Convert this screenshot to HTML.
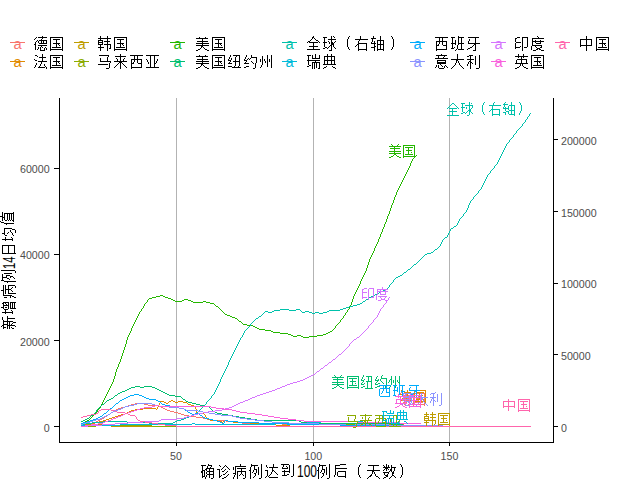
<!DOCTYPE html>
<html><head><meta charset="utf-8"><title>chart</title><style>html,body{margin:0;padding:0;background:#fff;overflow:hidden}svg text{shape-rendering:auto}</style></head><body>
<svg width="640" height="480" viewBox="0 0 640 480" style="display:block">
<rect width="640" height="480" fill="#fff"/>
<defs>
<path id="g5fb7_14" d="M3 -12h1v1h-1zM2 -11h1v1h-1zM5 -11h8v1h-8zM1 -10h1v1h-1zM8 -10h1v1h-1zM5 -9h8v1h-8zM3 -8h1v1h-1zM5 -8h1v1h-1zM7 -8h1v1h-1zM9 -8h1v1h-1zM12 -8h1v1h-1zM2 -7h1v1h-1zM5 -7h1v1h-1zM7 -7h1v1h-1zM9 -7h1v1h-1zM12 -7h1v1h-1zM2 -6h1v1h-1zM5 -6h8v1h-8zM1 -5h2v1h-2zM2 -4h1v1h-1zM4 -4h9v1h-9zM2 -3h1v1h-1zM8 -3h1v1h-1zM2 -2h1v1h-1zM5 -2h2v1h-2zM8 -2h1v1h-1zM11 -2h1v1h-1zM2 -1h1v1h-1zM4 -1h1v1h-1zM6 -1h1v1h-1zM12 -1h1v1h-1zM2 0h1v1h-1zM4 0h1v1h-1zM6 0h1v1h-1zM10 0h1v1h-1zM12 0h1v1h-1zM7 1h4v1h-4z"/>
<path id="g56fd_14" d="M1 -11h12v1h-12zM1 -10h1v1h-1zM12 -10h1v1h-1zM1 -9h1v1h-1zM3 -9h8v1h-8zM12 -9h1v1h-1zM1 -8h1v1h-1zM6 -8h1v1h-1zM12 -8h1v1h-1zM1 -7h1v1h-1zM6 -7h1v1h-1zM12 -7h1v1h-1zM1 -6h1v1h-1zM4 -6h6v1h-6zM12 -6h1v1h-1zM1 -5h1v1h-1zM6 -5h1v1h-1zM12 -5h1v1h-1zM1 -4h1v1h-1zM6 -4h1v1h-1zM9 -4h1v1h-1zM12 -4h1v1h-1zM1 -3h1v1h-1zM6 -3h1v1h-1zM12 -3h1v1h-1zM1 -2h1v1h-1zM3 -2h8v1h-8zM12 -2h1v1h-1zM1 -1h1v1h-1zM12 -1h1v1h-1zM1 0h12v1h-12zM1 1h1v1h-1zM12 1h1v1h-1z"/>
<path id="g6cd5_14" d="M2 -11h2v1h-2zM8 -11h1v1h-1zM8 -10h1v1h-1zM5 -9h7v1h-7zM8 -8h1v1h-1zM1 -7h2v1h-2zM8 -7h1v1h-1zM8 -6h1v1h-1zM5 -5h8v1h-8zM8 -4h1v1h-1zM3 -3h1v1h-1zM7 -3h1v1h-1zM10 -3h1v1h-1zM2 -2h1v1h-1zM6 -2h1v1h-1zM10 -2h1v1h-1zM2 -1h1v1h-1zM6 -1h1v1h-1zM11 -1h1v1h-1zM1 0h1v1h-1zM5 0h6v1h-6zM12 0h1v1h-1zM1 1h1v1h-1zM12 1h1v1h-1z"/>
<path id="g97e9_14" d="M3 -12h1v1h-1zM9 -12h1v1h-1zM3 -11h1v1h-1zM9 -11h1v1h-1zM1 -10h5v1h-5zM7 -10h6v1h-6zM3 -9h1v1h-1zM9 -9h1v1h-1zM1 -8h5v1h-5zM9 -8h1v1h-1zM1 -7h1v1h-1zM5 -7h1v1h-1zM7 -7h6v1h-6zM1 -6h5v1h-5zM9 -6h1v1h-1zM1 -5h1v1h-1zM5 -5h1v1h-1zM9 -5h1v1h-1zM1 -4h12v1h-12zM3 -3h1v1h-1zM9 -3h1v1h-1zM12 -3h1v1h-1zM1 -2h5v1h-5zM9 -2h1v1h-1zM12 -2h1v1h-1zM3 -1h1v1h-1zM9 -1h1v1h-1zM12 -1h1v1h-1zM3 0h1v1h-1zM9 0h1v1h-1zM11 0h1v1h-1zM3 1h1v1h-1zM9 1h1v1h-1z"/>
<path id="g9a6c_14" d="M2 -11h9v1h-9zM10 -10h1v1h-1zM3 -9h1v1h-1zM10 -9h1v1h-1zM3 -8h1v1h-1zM10 -8h1v1h-1zM3 -7h1v1h-1zM9 -7h1v1h-1zM3 -6h1v1h-1zM9 -6h1v1h-1zM3 -5h10v1h-10zM12 -4h1v1h-1zM11 -3h1v1h-1zM1 -2h9v1h-9zM11 -2h1v1h-1zM11 -1h1v1h-1zM11 0h1v1h-1zM8 1h3v1h-3z"/>
<path id="g6765_14" d="M6 -12h1v1h-1zM1 -11h12v1h-12zM6 -10h1v1h-1zM3 -9h1v1h-1zM6 -9h1v1h-1zM10 -9h1v1h-1zM3 -8h1v1h-1zM6 -8h1v1h-1zM9 -8h1v1h-1zM6 -7h1v1h-1zM9 -7h1v1h-1zM1 -6h12v1h-12zM5 -5h2v1h-2zM8 -5h1v1h-1zM4 -4h1v1h-1zM6 -4h1v1h-1zM8 -4h1v1h-1zM4 -3h1v1h-1zM6 -3h1v1h-1zM9 -3h1v1h-1zM2 -2h2v1h-2zM6 -2h1v1h-1zM10 -2h2v1h-2zM1 -1h1v1h-1zM6 -1h1v1h-1zM12 -1h1v1h-1z"/>
<path id="g897f_14" d="M1 -11h12v1h-12zM5 -10h1v1h-1zM8 -10h1v1h-1zM5 -9h1v1h-1zM8 -9h1v1h-1zM2 -8h10v1h-10zM1 -7h1v1h-1zM5 -7h1v1h-1zM8 -7h1v1h-1zM11 -7h1v1h-1zM1 -6h1v1h-1zM5 -6h1v1h-1zM8 -6h1v1h-1zM11 -6h1v1h-1zM1 -5h1v1h-1zM4 -5h1v1h-1zM8 -5h1v1h-1zM11 -5h1v1h-1zM1 -4h1v1h-1zM4 -4h1v1h-1zM8 -4h4v1h-4zM1 -3h1v1h-1zM3 -3h1v1h-1zM11 -3h1v1h-1zM1 -2h1v1h-1zM11 -2h1v1h-1zM1 -1h1v1h-1zM11 -1h1v1h-1zM2 0h10v1h-10z"/>
<path id="g4e9a_14" d="M1 -11h12v1h-12zM5 -10h1v1h-1zM8 -10h1v1h-1zM5 -9h1v1h-1zM8 -9h1v1h-1zM1 -8h1v1h-1zM5 -8h1v1h-1zM8 -8h1v1h-1zM12 -8h1v1h-1zM2 -7h1v1h-1zM5 -7h1v1h-1zM8 -7h1v1h-1zM11 -7h1v1h-1zM2 -6h1v1h-1zM5 -6h1v1h-1zM8 -6h1v1h-1zM11 -6h1v1h-1zM2 -5h1v1h-1zM5 -5h1v1h-1zM8 -5h1v1h-1zM10 -5h1v1h-1zM3 -4h1v1h-1zM5 -4h1v1h-1zM8 -4h1v1h-1zM10 -4h1v1h-1zM5 -3h1v1h-1zM8 -3h1v1h-1zM5 -2h1v1h-1zM8 -2h1v1h-1zM5 -1h1v1h-1zM8 -1h1v1h-1zM1 0h12v1h-12z"/>
<path id="g7f8e_14" d="M3 -12h1v1h-1zM10 -12h1v1h-1zM4 -11h1v1h-1zM9 -11h1v1h-1zM1 -10h12v1h-12zM6 -9h1v1h-1zM2 -8h10v1h-10zM6 -7h1v1h-1zM6 -6h1v1h-1zM1 -5h12v1h-12zM6 -4h1v1h-1zM1 -3h12v1h-12zM6 -2h2v1h-2zM5 -1h1v1h-1zM8 -1h1v1h-1zM3 0h2v1h-2zM9 0h2v1h-2zM1 1h2v1h-2zM11 1h2v1h-2z"/>
<path id="g7ebd_14" d="M3 -12h1v1h-1zM3 -11h1v1h-1zM6 -11h6v1h-6zM2 -10h1v1h-1zM8 -10h1v1h-1zM11 -10h1v1h-1zM2 -9h1v1h-1zM8 -9h1v1h-1zM11 -9h1v1h-1zM1 -8h1v1h-1zM4 -8h1v1h-1zM8 -8h1v1h-1zM11 -8h1v1h-1zM1 -7h3v1h-3zM8 -7h1v1h-1zM11 -7h1v1h-1zM3 -6h1v1h-1zM6 -6h6v1h-6zM2 -5h1v1h-1zM7 -5h1v1h-1zM11 -5h1v1h-1zM1 -4h1v1h-1zM4 -4h1v1h-1zM7 -4h1v1h-1zM11 -4h1v1h-1zM1 -3h3v1h-3zM7 -3h1v1h-1zM11 -3h1v1h-1zM7 -2h1v1h-1zM11 -2h1v1h-1zM3 -1h2v1h-2zM7 -1h1v1h-1zM11 -1h1v1h-1zM1 0h2v1h-2zM7 0h1v1h-1zM11 0h1v1h-1zM5 1h8v1h-8z"/>
<path id="g7ea6_14" d="M8 -12h1v1h-1zM3 -11h1v1h-1zM7 -11h1v1h-1zM2 -10h1v1h-1zM7 -10h1v1h-1zM2 -9h1v1h-1zM7 -9h6v1h-6zM1 -8h1v1h-1zM4 -8h1v1h-1zM6 -8h1v1h-1zM12 -8h1v1h-1zM1 -7h4v1h-4zM6 -7h1v1h-1zM12 -7h1v1h-1zM3 -6h1v1h-1zM7 -6h1v1h-1zM12 -6h1v1h-1zM2 -5h1v1h-1zM8 -5h1v1h-1zM12 -5h1v1h-1zM1 -4h1v1h-1zM4 -4h2v1h-2zM9 -4h1v1h-1zM12 -4h1v1h-1zM1 -3h3v1h-3zM12 -3h1v1h-1zM11 -2h1v1h-1zM3 -1h3v1h-3zM11 -1h1v1h-1zM1 0h2v1h-2zM11 0h1v1h-1zM9 1h3v1h-3z"/>
<path id="g5dde_14" d="M3 -11h1v1h-1zM7 -11h1v1h-1zM11 -11h1v1h-1zM3 -10h1v1h-1zM7 -10h1v1h-1zM11 -10h1v1h-1zM3 -9h1v1h-1zM7 -9h1v1h-1zM11 -9h1v1h-1zM2 -8h2v1h-2zM7 -8h1v1h-1zM11 -8h1v1h-1zM1 -7h1v1h-1zM3 -7h1v1h-1zM5 -7h1v1h-1zM7 -7h1v1h-1zM9 -7h1v1h-1zM11 -7h1v1h-1zM1 -6h1v1h-1zM3 -6h1v1h-1zM5 -6h1v1h-1zM7 -6h1v1h-1zM9 -6h1v1h-1zM11 -6h1v1h-1zM0 -5h1v1h-1zM3 -5h1v1h-1zM5 -5h1v1h-1zM7 -5h1v1h-1zM10 -5h2v1h-2zM3 -4h1v1h-1zM7 -4h1v1h-1zM11 -4h1v1h-1zM3 -3h1v1h-1zM7 -3h1v1h-1zM11 -3h1v1h-1zM2 -2h1v1h-1zM7 -2h1v1h-1zM11 -2h1v1h-1zM2 -1h1v1h-1zM7 -1h1v1h-1zM11 -1h1v1h-1zM1 0h1v1h-1zM7 0h1v1h-1zM11 0h1v1h-1z"/>
<path id="g5168_14" d="M6 -11h2v1h-2zM5 -10h1v1h-1zM8 -10h1v1h-1zM4 -9h1v1h-1zM9 -9h1v1h-1zM3 -8h1v1h-1zM10 -8h1v1h-1zM2 -7h1v1h-1zM11 -7h1v1h-1zM1 -6h1v1h-1zM3 -6h8v1h-8zM12 -6h1v1h-1zM6 -5h1v1h-1zM6 -4h1v1h-1zM3 -3h8v1h-8zM6 -2h1v1h-1zM6 -1h1v1h-1zM6 0h1v1h-1zM1 1h12v1h-12z"/>
<path id="g7403_14" d="M9 -12h1v1h-1zM1 -11h4v1h-4zM9 -11h1v1h-1zM11 -11h1v1h-1zM2 -10h1v1h-1zM9 -10h1v1h-1zM2 -9h1v1h-1zM5 -9h8v1h-8zM2 -8h1v1h-1zM9 -8h1v1h-1zM12 -8h1v1h-1zM1 -7h4v1h-4zM6 -7h1v1h-1zM9 -7h1v1h-1zM12 -7h1v1h-1zM2 -6h1v1h-1zM6 -6h1v1h-1zM9 -6h1v1h-1zM11 -6h1v1h-1zM2 -5h1v1h-1zM9 -5h2v1h-2zM2 -4h1v1h-1zM8 -4h3v1h-3zM2 -3h1v1h-1zM7 -3h1v1h-1zM9 -3h2v1h-2zM3 -2h2v1h-2zM6 -2h1v1h-1zM9 -2h1v1h-1zM11 -2h1v1h-1zM1 -1h2v1h-2zM5 -1h1v1h-1zM9 -1h1v1h-1zM12 -1h1v1h-1zM9 0h1v1h-1zM7 1h2v1h-2z"/>
<path id="gff08_14" d="M12 -12h1v1h-1zM11 -11h1v1h-1zM11 -10h1v1h-1zM10 -9h1v1h-1zM10 -8h1v1h-1zM10 -7h1v1h-1zM10 -6h1v1h-1zM10 -5h1v1h-1zM10 -4h1v1h-1zM10 -3h1v1h-1zM11 -2h1v1h-1zM11 -1h1v1h-1zM12 0h1v1h-1z"/>
<path id="g53f3_14" d="M6 -12h1v1h-1zM5 -11h1v1h-1zM5 -10h1v1h-1zM1 -9h12v1h-12zM4 -8h1v1h-1zM4 -7h1v1h-1zM4 -6h1v1h-1zM3 -5h9v1h-9zM2 -4h1v1h-1zM4 -4h1v1h-1zM11 -4h1v1h-1zM1 -3h1v1h-1zM4 -3h1v1h-1zM11 -3h1v1h-1zM4 -2h1v1h-1zM11 -2h1v1h-1zM4 -1h1v1h-1zM11 -1h1v1h-1zM4 0h8v1h-8zM4 1h1v1h-1zM11 1h1v1h-1z"/>
<path id="g8f74_14" d="M3 -12h1v1h-1zM9 -12h1v1h-1zM2 -11h1v1h-1zM9 -11h1v1h-1zM1 -10h5v1h-5zM9 -10h1v1h-1zM2 -9h1v1h-1zM7 -9h6v1h-6zM2 -8h1v1h-1zM6 -8h1v1h-1zM9 -8h1v1h-1zM12 -8h1v1h-1zM1 -7h1v1h-1zM3 -7h1v1h-1zM6 -7h1v1h-1zM9 -7h1v1h-1zM12 -7h1v1h-1zM1 -6h6v1h-6zM9 -6h1v1h-1zM12 -6h1v1h-1zM3 -5h1v1h-1zM6 -5h1v1h-1zM9 -5h1v1h-1zM12 -5h1v1h-1zM3 -4h1v1h-1zM7 -4h6v1h-6zM4 -3h3v1h-3zM9 -3h1v1h-1zM12 -3h1v1h-1zM1 -2h3v1h-3zM6 -2h1v1h-1zM9 -2h1v1h-1zM12 -2h1v1h-1zM3 -1h1v1h-1zM6 -1h1v1h-1zM9 -1h1v1h-1zM12 -1h1v1h-1zM3 0h1v1h-1zM7 0h6v1h-6zM12 1h1v1h-1z"/>
<path id="gff09_14" d="M1 -12h1v1h-1zM2 -11h1v1h-1zM2 -10h1v1h-1zM3 -9h1v1h-1zM3 -8h1v1h-1zM3 -7h1v1h-1zM3 -6h1v1h-1zM3 -5h1v1h-1zM3 -4h1v1h-1zM2 -3h1v1h-1zM2 -2h1v1h-1zM1 -1h1v1h-1zM1 0h1v1h-1z"/>
<path id="g745e_14" d="M9 -12h1v1h-1zM1 -11h5v1h-5zM9 -11h1v1h-1zM12 -11h1v1h-1zM2 -10h1v1h-1zM5 -10h1v1h-1zM9 -10h1v1h-1zM12 -10h1v1h-1zM2 -9h1v1h-1zM6 -9h7v1h-7zM2 -8h1v1h-1zM1 -7h3v1h-3zM5 -7h8v1h-8zM2 -6h1v1h-1zM8 -6h1v1h-1zM2 -5h1v1h-1zM8 -5h1v1h-1zM2 -4h1v1h-1zM6 -4h7v1h-7zM2 -3h1v1h-1zM5 -3h1v1h-1zM7 -3h1v1h-1zM10 -3h1v1h-1zM12 -3h1v1h-1zM2 -2h4v1h-4zM7 -2h1v1h-1zM10 -2h1v1h-1zM12 -2h1v1h-1zM1 -1h1v1h-1zM5 -1h1v1h-1zM7 -1h1v1h-1zM10 -1h1v1h-1zM12 -1h1v1h-1zM5 0h1v1h-1zM7 0h1v1h-1zM10 0h1v1h-1zM12 0h1v1h-1zM10 1h3v1h-3z"/>
<path id="g5178_14" d="M5 -12h1v1h-1zM8 -12h1v1h-1zM5 -11h1v1h-1zM8 -11h1v1h-1zM2 -10h10v1h-10zM2 -9h1v1h-1zM5 -9h1v1h-1zM8 -9h1v1h-1zM11 -9h1v1h-1zM2 -8h1v1h-1zM5 -8h1v1h-1zM8 -8h1v1h-1zM11 -8h1v1h-1zM2 -7h10v1h-10zM2 -6h1v1h-1zM5 -6h1v1h-1zM8 -6h1v1h-1zM11 -6h1v1h-1zM2 -5h1v1h-1zM5 -5h1v1h-1zM8 -5h1v1h-1zM11 -5h1v1h-1zM2 -4h1v1h-1zM5 -4h1v1h-1zM8 -4h1v1h-1zM11 -4h1v1h-1zM1 -3h12v1h-12zM4 -1h1v1h-1zM9 -1h2v1h-2zM2 0h2v1h-2zM11 0h1v1h-1zM1 1h1v1h-1zM12 1h1v1h-1z"/>
<path id="g73ed_14" d="M7 -12h1v1h-1zM1 -11h4v1h-4zM7 -11h6v1h-6zM2 -10h1v1h-1zM7 -10h1v1h-1zM10 -10h1v1h-1zM2 -9h1v1h-1zM5 -9h1v1h-1zM7 -9h1v1h-1zM10 -9h1v1h-1zM2 -8h1v1h-1zM5 -8h1v1h-1zM7 -8h1v1h-1zM10 -8h1v1h-1zM2 -7h1v1h-1zM5 -7h1v1h-1zM7 -7h1v1h-1zM10 -7h1v1h-1zM1 -6h5v1h-5zM7 -6h1v1h-1zM10 -6h1v1h-1zM2 -5h1v1h-1zM5 -5h1v1h-1zM7 -5h1v1h-1zM9 -5h4v1h-4zM2 -4h1v1h-1zM7 -4h1v1h-1zM10 -4h1v1h-1zM2 -3h1v1h-1zM7 -3h1v1h-1zM10 -3h1v1h-1zM2 -2h1v1h-1zM7 -2h1v1h-1zM10 -2h1v1h-1zM1 -1h3v1h-3zM6 -1h1v1h-1zM10 -1h1v1h-1zM5 0h1v1h-1zM7 0h6v1h-6z"/>
<path id="g7259_14" d="M2 -11h10v1h-10zM9 -10h1v1h-1zM3 -9h1v1h-1zM9 -9h1v1h-1zM2 -8h1v1h-1zM9 -8h1v1h-1zM2 -7h1v1h-1zM9 -7h1v1h-1zM2 -6h11v1h-11zM8 -5h2v1h-2zM7 -4h1v1h-1zM9 -4h1v1h-1zM6 -3h1v1h-1zM9 -3h1v1h-1zM4 -2h2v1h-2zM9 -2h1v1h-1zM2 -1h2v1h-2zM9 -1h1v1h-1zM1 0h1v1h-1zM9 0h1v1h-1zM7 1h2v1h-2z"/>
<path id="g610f_14" d="M2 -11h10v1h-10zM4 -10h1v1h-1zM9 -10h1v1h-1zM4 -9h1v1h-1zM9 -9h1v1h-1zM1 -8h12v1h-12zM3 -7h8v1h-8zM2 -6h1v1h-1zM10 -6h1v1h-1zM3 -5h8v1h-8zM2 -4h1v1h-1zM10 -4h1v1h-1zM3 -3h8v1h-8zM4 -2h1v1h-1zM7 -2h1v1h-1zM10 -2h1v1h-1zM2 -1h1v1h-1zM4 -1h1v1h-1zM9 -1h1v1h-1zM11 -1h1v1h-1zM1 0h1v1h-1zM4 0h1v1h-1zM9 0h1v1h-1zM12 0h1v1h-1zM5 1h4v1h-4z"/>
<path id="g5927_14" d="M6 -11h1v1h-1zM6 -10h1v1h-1zM6 -9h1v1h-1zM6 -8h1v1h-1zM1 -7h12v1h-12zM6 -6h2v1h-2zM6 -5h2v1h-2zM5 -4h1v1h-1zM8 -4h1v1h-1zM5 -3h1v1h-1zM8 -3h1v1h-1zM4 -2h1v1h-1zM9 -2h1v1h-1zM3 -1h1v1h-1zM10 -1h1v1h-1zM2 0h1v1h-1zM11 0h1v1h-1zM1 1h1v1h-1zM12 1h1v1h-1z"/>
<path id="g5229_14" d="M6 -12h1v1h-1zM2 -11h4v1h-4zM12 -11h1v1h-1zM1 -10h1v1h-1zM4 -10h1v1h-1zM8 -10h1v1h-1zM12 -10h1v1h-1zM4 -9h1v1h-1zM8 -9h1v1h-1zM12 -9h1v1h-1zM4 -8h1v1h-1zM8 -8h1v1h-1zM12 -8h1v1h-1zM1 -7h6v1h-6zM8 -7h1v1h-1zM12 -7h1v1h-1zM3 -6h2v1h-2zM8 -6h1v1h-1zM12 -6h1v1h-1zM2 -5h1v1h-1zM4 -5h1v1h-1zM8 -5h1v1h-1zM12 -5h1v1h-1zM2 -4h1v1h-1zM4 -4h2v1h-2zM8 -4h1v1h-1zM12 -4h1v1h-1zM1 -3h1v1h-1zM4 -3h1v1h-1zM6 -3h1v1h-1zM8 -3h1v1h-1zM12 -3h1v1h-1zM1 -2h1v1h-1zM4 -2h1v1h-1zM12 -2h1v1h-1zM4 -1h1v1h-1zM12 -1h1v1h-1zM4 0h1v1h-1zM12 0h1v1h-1zM4 1h1v1h-1zM10 1h2v1h-2z"/>
<path id="g5370_14" d="M3 -11h3v1h-3zM8 -11h5v1h-5zM1 -10h2v1h-2zM7 -10h1v1h-1zM12 -10h1v1h-1zM1 -9h1v1h-1zM7 -9h1v1h-1zM12 -9h1v1h-1zM1 -8h1v1h-1zM7 -8h1v1h-1zM12 -8h1v1h-1zM1 -7h5v1h-5zM7 -7h1v1h-1zM12 -7h1v1h-1zM1 -6h1v1h-1zM7 -6h1v1h-1zM12 -6h1v1h-1zM1 -5h1v1h-1zM7 -5h1v1h-1zM12 -5h1v1h-1zM1 -4h1v1h-1zM7 -4h1v1h-1zM12 -4h1v1h-1zM1 -3h1v1h-1zM7 -3h1v1h-1zM12 -3h1v1h-1zM1 -2h5v1h-5zM7 -2h1v1h-1zM10 -2h3v1h-3zM1 -1h1v1h-1zM7 -1h1v1h-1zM7 0h1v1h-1z"/>
<path id="g5ea6_14" d="M7 -12h1v1h-1zM7 -11h1v1h-1zM2 -10h11v1h-11zM2 -9h1v1h-1zM5 -9h1v1h-1zM10 -9h1v1h-1zM2 -8h11v1h-11zM2 -7h1v1h-1zM5 -7h1v1h-1zM10 -7h1v1h-1zM2 -6h1v1h-1zM5 -6h1v1h-1zM10 -6h1v1h-1zM2 -5h1v1h-1zM5 -5h6v1h-6zM1 -4h1v1h-1zM1 -3h1v1h-1zM3 -3h9v1h-9zM1 -2h1v1h-1zM5 -2h1v1h-1zM10 -2h1v1h-1zM1 -1h1v1h-1zM6 -1h1v1h-1zM9 -1h1v1h-1zM1 0h1v1h-1zM6 0h4v1h-4zM3 1h3v1h-3zM10 1h3v1h-3z"/>
<path id="g82f1_14" d="M4 -12h1v1h-1zM9 -12h1v1h-1zM4 -11h1v1h-1zM9 -11h1v1h-1zM1 -10h12v1h-12zM4 -9h1v1h-1zM9 -9h1v1h-1zM6 -8h1v1h-1zM2 -7h10v1h-10zM2 -6h1v1h-1zM6 -6h1v1h-1zM11 -6h1v1h-1zM2 -5h1v1h-1zM6 -5h1v1h-1zM11 -5h1v1h-1zM2 -4h1v1h-1zM6 -4h1v1h-1zM11 -4h1v1h-1zM1 -3h12v1h-12zM6 -2h2v1h-2zM5 -1h1v1h-1zM8 -1h1v1h-1zM3 0h2v1h-2zM9 0h2v1h-2zM1 1h2v1h-2zM11 1h2v1h-2z"/>
<path id="g4e2d_14" d="M6 -11h1v1h-1zM6 -10h1v1h-1zM1 -9h12v1h-12zM1 -8h1v1h-1zM6 -8h1v1h-1zM12 -8h1v1h-1zM1 -7h1v1h-1zM6 -7h1v1h-1zM12 -7h1v1h-1zM1 -6h1v1h-1zM6 -6h1v1h-1zM12 -6h1v1h-1zM1 -5h1v1h-1zM6 -5h1v1h-1zM12 -5h1v1h-1zM1 -4h12v1h-12zM1 -3h1v1h-1zM6 -3h1v1h-1zM12 -3h1v1h-1zM6 -2h1v1h-1zM6 -1h1v1h-1zM6 0h1v1h-1z"/>
<path id="g786e_15" d="M8 -13h1v1h-1zM1 -12h5v1h-5zM8 -12h4v1h-4zM2 -11h1v1h-1zM7 -11h1v1h-1zM11 -11h1v1h-1zM2 -10h1v1h-1zM7 -10h1v1h-1zM10 -10h1v1h-1zM2 -9h1v1h-1zM6 -9h8v1h-8zM2 -8h1v1h-1zM5 -8h2v1h-2zM9 -8h1v1h-1zM13 -8h1v1h-1zM2 -7h3v1h-3zM6 -7h1v1h-1zM9 -7h1v1h-1zM13 -7h1v1h-1zM1 -6h2v1h-2zM4 -6h1v1h-1zM7 -6h7v1h-7zM1 -5h2v1h-2zM4 -5h1v1h-1zM6 -5h1v1h-1zM9 -5h1v1h-1zM13 -5h1v1h-1zM2 -4h1v1h-1zM4 -4h1v1h-1zM6 -4h1v1h-1zM9 -4h1v1h-1zM13 -4h1v1h-1zM2 -3h1v1h-1zM4 -3h1v1h-1zM7 -3h7v1h-7zM2 -2h1v1h-1zM4 -2h1v1h-1zM6 -2h1v1h-1zM9 -2h1v1h-1zM13 -2h1v1h-1zM2 -1h3v1h-3zM6 -1h1v1h-1zM9 -1h1v1h-1zM13 -1h1v1h-1zM2 0h1v1h-1zM5 0h1v1h-1zM9 0h1v1h-1zM13 0h1v1h-1zM5 1h1v1h-1zM11 1h2v1h-2z"/>
<path id="g8bca_15" d="M3 -12h1v1h-1zM9 -12h1v1h-1zM4 -11h1v1h-1zM8 -11h1v1h-1zM10 -11h1v1h-1zM7 -10h1v1h-1zM11 -10h1v1h-1zM6 -9h1v1h-1zM12 -9h1v1h-1zM1 -8h3v1h-3zM5 -8h1v1h-1zM9 -8h1v1h-1zM13 -8h1v1h-1zM3 -7h1v1h-1zM8 -7h1v1h-1zM3 -6h1v1h-1zM6 -6h2v1h-2zM11 -6h1v1h-1zM3 -5h1v1h-1zM10 -5h1v1h-1zM3 -4h1v1h-1zM9 -4h1v1h-1zM3 -3h1v1h-1zM7 -3h2v1h-2zM12 -3h1v1h-1zM3 -2h1v1h-1zM5 -2h1v1h-1zM11 -2h1v1h-1zM3 -1h2v1h-2zM10 -1h1v1h-1zM3 0h1v1h-1zM8 0h2v1h-2zM6 1h2v1h-2z"/>
<path id="g75c5_15" d="M8 -13h1v1h-1zM8 -12h1v1h-1zM3 -11h11v1h-11zM1 -10h1v1h-1zM3 -10h1v1h-1zM1 -9h1v1h-1zM3 -9h1v1h-1zM5 -9h9v1h-9zM1 -8h1v1h-1zM3 -8h1v1h-1zM9 -8h1v1h-1zM3 -7h1v1h-1zM9 -7h1v1h-1zM3 -6h1v1h-1zM5 -6h9v1h-9zM3 -5h1v1h-1zM5 -5h1v1h-1zM9 -5h1v1h-1zM13 -5h1v1h-1zM1 -4h3v1h-3zM5 -4h1v1h-1zM9 -4h1v1h-1zM13 -4h1v1h-1zM3 -3h1v1h-1zM5 -3h1v1h-1zM8 -3h1v1h-1zM10 -3h1v1h-1zM13 -3h1v1h-1zM2 -2h1v1h-1zM5 -2h1v1h-1zM7 -2h1v1h-1zM11 -2h1v1h-1zM13 -2h1v1h-1zM2 -1h1v1h-1zM5 -1h1v1h-1zM13 -1h1v1h-1zM1 0h1v1h-1zM5 0h1v1h-1zM13 0h1v1h-1zM1 1h1v1h-1zM5 1h1v1h-1zM11 1h2v1h-2z"/>
<path id="g4f8b_15" d="M3 -13h1v1h-1zM13 -13h1v1h-1zM3 -12h7v1h-7zM13 -12h1v1h-1zM3 -11h1v1h-1zM6 -11h1v1h-1zM13 -11h1v1h-1zM2 -10h1v1h-1zM6 -10h1v1h-1zM10 -10h1v1h-1zM13 -10h1v1h-1zM2 -9h1v1h-1zM6 -9h1v1h-1zM10 -9h1v1h-1zM13 -9h1v1h-1zM2 -8h1v1h-1zM6 -8h3v1h-3zM10 -8h1v1h-1zM13 -8h1v1h-1zM1 -7h2v1h-2zM5 -7h1v1h-1zM8 -7h1v1h-1zM10 -7h1v1h-1zM13 -7h1v1h-1zM2 -6h1v1h-1zM5 -6h1v1h-1zM8 -6h1v1h-1zM10 -6h1v1h-1zM13 -6h1v1h-1zM2 -5h1v1h-1zM4 -5h1v1h-1zM8 -5h1v1h-1zM10 -5h1v1h-1zM13 -5h1v1h-1zM2 -4h1v1h-1zM6 -4h2v1h-2zM10 -4h1v1h-1zM13 -4h1v1h-1zM2 -3h1v1h-1zM7 -3h1v1h-1zM10 -3h1v1h-1zM13 -3h1v1h-1zM2 -2h1v1h-1zM7 -2h1v1h-1zM13 -2h1v1h-1zM2 -1h1v1h-1zM6 -1h1v1h-1zM13 -1h1v1h-1zM2 0h1v1h-1zM5 0h1v1h-1zM13 0h1v1h-1zM2 1h1v1h-1zM11 1h2v1h-2z"/>
<path id="g8fbe_15" d="M9 -13h1v1h-1zM2 -12h1v1h-1zM9 -12h1v1h-1zM2 -11h1v1h-1zM9 -11h1v1h-1zM3 -10h1v1h-1zM5 -10h9v1h-9zM8 -9h1v1h-1zM8 -8h1v1h-1zM1 -7h3v1h-3zM8 -7h2v1h-2zM3 -6h1v1h-1zM8 -6h1v1h-1zM10 -6h1v1h-1zM3 -5h1v1h-1zM7 -5h1v1h-1zM11 -5h1v1h-1zM3 -4h1v1h-1zM7 -4h1v1h-1zM12 -4h1v1h-1zM3 -3h1v1h-1zM6 -3h1v1h-1zM13 -3h1v1h-1zM3 -2h1v1h-1zM5 -2h1v1h-1zM2 -1h1v1h-1zM4 -1h1v1h-1zM1 0h1v1h-1zM5 0h9v1h-9z"/>
<path id="g5230_15" d="M1 -13h8v1h-8zM13 -13h1v1h-1zM3 -12h1v1h-1zM9 -12h1v1h-1zM13 -12h1v1h-1zM3 -11h1v1h-1zM6 -11h1v1h-1zM9 -11h1v1h-1zM13 -11h1v1h-1zM2 -10h1v1h-1zM7 -10h1v1h-1zM9 -10h1v1h-1zM13 -10h1v1h-1zM2 -9h6v1h-6zM9 -9h1v1h-1zM13 -9h1v1h-1zM9 -8h1v1h-1zM13 -8h1v1h-1zM4 -7h1v1h-1zM9 -7h1v1h-1zM13 -7h1v1h-1zM2 -6h8v1h-8zM13 -6h1v1h-1zM4 -5h1v1h-1zM9 -5h1v1h-1zM13 -5h1v1h-1zM4 -4h1v1h-1zM13 -4h1v1h-1zM4 -3h1v1h-1zM7 -3h2v1h-2zM13 -3h1v1h-1zM2 -2h5v1h-5zM13 -2h1v1h-1zM11 -1h2v1h-2z"/>
<path id="g540e_15" d="M7 -13h6v1h-6zM2 -12h5v1h-5zM2 -11h1v1h-1zM2 -10h1v1h-1zM2 -9h12v1h-12zM2 -8h1v1h-1zM2 -7h1v1h-1zM2 -6h1v1h-1zM5 -6h8v1h-8zM2 -5h1v1h-1zM4 -5h1v1h-1zM12 -5h1v1h-1zM2 -4h1v1h-1zM4 -4h1v1h-1zM12 -4h1v1h-1zM2 -3h1v1h-1zM4 -3h1v1h-1zM12 -3h1v1h-1zM1 -2h1v1h-1zM4 -2h1v1h-1zM12 -2h1v1h-1zM1 -1h1v1h-1zM5 -1h8v1h-8zM12 0h1v1h-1z"/>
<path id="gff08_15" d="M13 -13h1v1h-1zM12 -12h1v1h-1zM12 -11h1v1h-1zM11 -10h1v1h-1zM11 -9h1v1h-1zM11 -8h1v1h-1zM11 -7h1v1h-1zM11 -6h1v1h-1zM11 -5h1v1h-1zM11 -4h1v1h-1zM11 -3h1v1h-1zM12 -2h1v1h-1zM12 -1h1v1h-1zM13 0h1v1h-1z"/>
<path id="g5929_15" d="M2 -12h11v1h-11zM7 -11h1v1h-1zM7 -10h1v1h-1zM7 -9h1v1h-1zM7 -8h1v1h-1zM1 -7h13v1h-13zM6 -6h2v1h-2zM6 -5h1v1h-1zM8 -5h1v1h-1zM6 -4h1v1h-1zM8 -4h1v1h-1zM5 -3h1v1h-1zM9 -3h1v1h-1zM4 -2h2v1h-2zM9 -2h1v1h-1zM3 -1h2v1h-2zM10 -1h2v1h-2zM2 0h1v1h-1zM12 0h1v1h-1zM1 1h1v1h-1zM13 1h1v1h-1z"/>
<path id="g6570_15" d="M4 -13h1v1h-1zM1 -12h1v1h-1zM4 -12h1v1h-1zM6 -12h1v1h-1zM9 -12h1v1h-1zM2 -11h1v1h-1zM4 -11h1v1h-1zM6 -11h1v1h-1zM9 -11h1v1h-1zM1 -10h7v1h-7zM9 -10h5v1h-5zM3 -9h3v1h-3zM9 -9h1v1h-1zM12 -9h1v1h-1zM2 -8h1v1h-1zM4 -8h1v1h-1zM6 -8h1v1h-1zM8 -8h2v1h-2zM12 -8h1v1h-1zM1 -7h1v1h-1zM4 -7h1v1h-1zM8 -7h2v1h-2zM12 -7h1v1h-1zM7 -6h1v1h-1zM9 -6h1v1h-1zM11 -6h1v1h-1zM1 -5h6v1h-6zM10 -5h2v1h-2zM2 -4h1v1h-1zM6 -4h1v1h-1zM10 -4h2v1h-2zM2 -3h1v1h-1zM5 -3h1v1h-1zM10 -3h1v1h-1zM3 -2h3v1h-3zM10 -2h2v1h-2zM4 -1h2v1h-2zM9 -1h1v1h-1zM12 -1h1v1h-1zM2 0h2v1h-2zM8 0h1v1h-1zM13 0h1v1h-1zM1 1h1v1h-1zM7 1h1v1h-1z"/>
<path id="gff09_15" d="M1 -13h1v1h-1zM2 -12h1v1h-1zM2 -11h1v1h-1zM3 -10h1v1h-1zM3 -9h1v1h-1zM3 -8h1v1h-1zM3 -7h1v1h-1zM3 -6h1v1h-1zM3 -5h1v1h-1zM3 -4h1v1h-1zM3 -3h1v1h-1zM2 -2h1v1h-1zM2 -1h1v1h-1zM1 0h1v1h-1z"/>
<path id="g65b0_15" d="M3 -13h1v1h-1zM4 -12h1v1h-1zM10 -12h3v1h-3zM1 -11h9v1h-9zM2 -10h1v1h-1zM5 -10h1v1h-1zM8 -10h1v1h-1zM2 -9h1v1h-1zM5 -9h1v1h-1zM8 -9h1v1h-1zM5 -8h1v1h-1zM8 -8h1v1h-1zM1 -7h13v1h-13zM4 -6h1v1h-1zM8 -6h1v1h-1zM11 -6h1v1h-1zM1 -5h8v1h-8zM11 -5h1v1h-1zM4 -4h1v1h-1zM8 -4h1v1h-1zM11 -4h1v1h-1zM2 -3h1v1h-1zM4 -3h2v1h-2zM8 -3h1v1h-1zM11 -3h1v1h-1zM1 -2h1v1h-1zM4 -2h1v1h-1zM6 -2h1v1h-1zM8 -2h1v1h-1zM11 -2h1v1h-1zM1 -1h1v1h-1zM4 -1h1v1h-1zM7 -1h1v1h-1zM11 -1h1v1h-1zM4 0h1v1h-1zM7 0h1v1h-1zM11 0h1v1h-1zM3 1h1v1h-1zM7 1h1v1h-1z"/>
<path id="g589e_15" d="M7 -13h1v1h-1zM2 -12h1v1h-1zM7 -12h1v1h-1zM11 -12h1v1h-1zM2 -11h1v1h-1zM6 -11h7v1h-7zM2 -10h1v1h-1zM5 -10h1v1h-1zM9 -10h1v1h-1zM12 -10h1v1h-1zM1 -9h5v1h-5zM7 -9h1v1h-1zM9 -9h1v1h-1zM11 -9h2v1h-2zM2 -8h1v1h-1zM5 -8h1v1h-1zM7 -8h1v1h-1zM9 -8h2v1h-2zM12 -8h1v1h-1zM2 -7h1v1h-1zM5 -7h1v1h-1zM9 -7h1v1h-1zM12 -7h1v1h-1zM2 -6h1v1h-1zM6 -6h7v1h-7zM2 -5h1v1h-1zM2 -4h1v1h-1zM6 -4h7v1h-7zM2 -3h1v1h-1zM4 -3h1v1h-1zM6 -3h1v1h-1zM12 -3h1v1h-1zM1 -2h3v1h-3zM6 -2h7v1h-7zM6 -1h1v1h-1zM12 -1h1v1h-1zM6 0h7v1h-7zM6 1h1v1h-1zM12 1h1v1h-1z"/>
<path id="g65e5_15" d="M3 -12h9v1h-9zM3 -11h1v1h-1zM11 -11h1v1h-1zM3 -10h1v1h-1zM11 -10h1v1h-1zM3 -9h1v1h-1zM11 -9h1v1h-1zM3 -8h1v1h-1zM11 -8h1v1h-1zM3 -7h1v1h-1zM11 -7h1v1h-1zM3 -6h9v1h-9zM3 -5h1v1h-1zM11 -5h1v1h-1zM3 -4h1v1h-1zM11 -4h1v1h-1zM3 -3h1v1h-1zM11 -3h1v1h-1zM3 -2h1v1h-1zM11 -2h1v1h-1zM3 -1h1v1h-1zM11 -1h1v1h-1zM3 0h9v1h-9zM3 1h1v1h-1z"/>
<path id="g5747_15" d="M2 -12h1v1h-1zM8 -12h1v1h-1zM2 -11h1v1h-1zM8 -11h1v1h-1zM2 -10h1v1h-1zM7 -10h7v1h-7zM1 -9h4v1h-4zM6 -9h1v1h-1zM13 -9h1v1h-1zM2 -8h1v1h-1zM6 -8h1v1h-1zM13 -8h1v1h-1zM2 -7h1v1h-1zM8 -7h1v1h-1zM13 -7h1v1h-1zM2 -6h1v1h-1zM9 -6h1v1h-1zM13 -6h1v1h-1zM2 -5h1v1h-1zM13 -5h1v1h-1zM2 -4h1v1h-1zM10 -4h2v1h-2zM13 -4h1v1h-1zM2 -3h1v1h-1zM4 -3h1v1h-1zM9 -3h1v1h-1zM13 -3h1v1h-1zM1 -2h3v1h-3zM7 -2h2v1h-2zM12 -2h1v1h-1zM6 -1h1v1h-1zM12 -1h1v1h-1zM12 0h1v1h-1zM9 1h3v1h-3z"/>
<path id="g503c_15" d="M4 -14h1v1h-1zM9 -14h1v1h-1zM3 -13h1v1h-1zM9 -13h1v1h-1zM3 -12h1v1h-1zM5 -12h9v1h-9zM3 -11h1v1h-1zM8 -11h1v1h-1zM2 -10h1v1h-1zM6 -10h7v1h-7zM2 -9h1v1h-1zM5 -9h1v1h-1zM12 -9h1v1h-1zM1 -8h2v1h-2zM5 -8h1v1h-1zM12 -8h1v1h-1zM2 -7h1v1h-1zM6 -7h7v1h-7zM2 -6h1v1h-1zM5 -6h1v1h-1zM12 -6h1v1h-1zM2 -5h1v1h-1zM6 -5h7v1h-7zM2 -4h1v1h-1zM5 -4h1v1h-1zM12 -4h1v1h-1zM2 -3h1v1h-1zM6 -3h7v1h-7zM2 -2h1v1h-1zM5 -2h1v1h-1zM12 -2h1v1h-1zM2 -1h1v1h-1zM4 -1h10v1h-10z"/>
<path id="g5fb7_15" d="M9 -13h1v1h-1zM3 -12h1v1h-1zM5 -12h9v1h-9zM2 -11h1v1h-1zM9 -11h1v1h-1zM1 -10h1v1h-1zM8 -10h1v1h-1zM4 -9h1v1h-1zM6 -9h8v1h-8zM3 -8h1v1h-1zM5 -8h1v1h-1zM8 -8h1v1h-1zM10 -8h1v1h-1zM13 -8h1v1h-1zM2 -7h1v1h-1zM5 -7h1v1h-1zM8 -7h1v1h-1zM10 -7h1v1h-1zM13 -7h1v1h-1zM2 -6h1v1h-1zM6 -6h8v1h-8zM1 -5h2v1h-2zM2 -4h1v1h-1zM5 -4h9v1h-9zM2 -3h1v1h-1zM8 -3h1v1h-1zM2 -2h1v1h-1zM5 -2h1v1h-1zM7 -2h1v1h-1zM9 -2h1v1h-1zM12 -2h1v1h-1zM2 -1h1v1h-1zM5 -1h1v1h-1zM7 -1h1v1h-1zM11 -1h1v1h-1zM13 -1h1v1h-1zM2 0h1v1h-1zM4 0h1v1h-1zM7 0h1v1h-1zM11 0h1v1h-1zM13 0h1v1h-1zM7 1h5v1h-5z"/>
<path id="g56fd_15" d="M1 -12h13v1h-13zM1 -11h1v1h-1zM13 -11h1v1h-1zM1 -10h1v1h-1zM4 -10h7v1h-7zM13 -10h1v1h-1zM1 -9h1v1h-1zM7 -9h1v1h-1zM13 -9h1v1h-1zM1 -8h1v1h-1zM7 -8h1v1h-1zM13 -8h1v1h-1zM1 -7h1v1h-1zM7 -7h1v1h-1zM13 -7h1v1h-1zM1 -6h1v1h-1zM4 -6h7v1h-7zM13 -6h1v1h-1zM1 -5h1v1h-1zM7 -5h1v1h-1zM9 -5h1v1h-1zM13 -5h1v1h-1zM1 -4h1v1h-1zM7 -4h1v1h-1zM10 -4h1v1h-1zM13 -4h1v1h-1zM1 -3h1v1h-1zM7 -3h1v1h-1zM13 -3h1v1h-1zM1 -2h1v1h-1zM3 -2h9v1h-9zM13 -2h1v1h-1zM1 -1h1v1h-1zM13 -1h1v1h-1zM1 0h13v1h-13zM1 1h1v1h-1zM13 1h1v1h-1z"/>
<path id="g6cd5_15" d="M9 -13h1v1h-1zM2 -12h2v1h-2zM9 -12h1v1h-1zM4 -11h1v1h-1zM9 -11h1v1h-1zM6 -10h7v1h-7zM9 -9h1v1h-1zM1 -8h1v1h-1zM9 -8h1v1h-1zM2 -7h2v1h-2zM9 -7h1v1h-1zM5 -6h9v1h-9zM8 -5h1v1h-1zM3 -4h1v1h-1zM8 -4h1v1h-1zM3 -3h1v1h-1zM7 -3h1v1h-1zM11 -3h1v1h-1zM2 -2h1v1h-1zM7 -2h1v1h-1zM11 -2h1v1h-1zM2 -1h1v1h-1zM6 -1h1v1h-1zM12 -1h1v1h-1zM1 0h1v1h-1zM5 0h7v1h-7zM13 0h1v1h-1zM13 1h1v1h-1z"/>
<path id="g97e9_15" d="M3 -13h1v1h-1zM10 -13h1v1h-1zM3 -12h1v1h-1zM10 -12h1v1h-1zM1 -11h13v1h-13zM3 -10h1v1h-1zM10 -10h1v1h-1zM1 -9h5v1h-5zM10 -9h1v1h-1zM1 -8h1v1h-1zM5 -8h1v1h-1zM7 -8h6v1h-6zM1 -7h5v1h-5zM10 -7h1v1h-1zM1 -6h1v1h-1zM5 -6h1v1h-1zM10 -6h1v1h-1zM1 -5h5v1h-5zM7 -5h7v1h-7zM3 -4h1v1h-1zM10 -4h1v1h-1zM13 -4h1v1h-1zM3 -3h1v1h-1zM10 -3h1v1h-1zM13 -3h1v1h-1zM1 -2h6v1h-6zM10 -2h1v1h-1zM13 -2h1v1h-1zM3 -1h1v1h-1zM10 -1h1v1h-1zM12 -1h2v1h-2zM3 0h1v1h-1zM10 0h1v1h-1zM3 1h1v1h-1zM10 1h1v1h-1z"/>
<path id="g9a6c_15" d="M2 -12h10v1h-10zM11 -11h1v1h-1zM10 -10h1v1h-1zM3 -9h1v1h-1zM10 -9h1v1h-1zM3 -8h1v1h-1zM10 -8h1v1h-1zM3 -7h1v1h-1zM10 -7h1v1h-1zM3 -6h11v1h-11zM13 -5h1v1h-1zM12 -4h1v1h-1zM1 -3h10v1h-10zM12 -3h1v1h-1zM12 -2h1v1h-1zM12 -1h1v1h-1zM12 0h1v1h-1zM9 1h3v1h-3z"/>
<path id="g6765_15" d="M7 -13h1v1h-1zM7 -12h1v1h-1zM2 -11h11v1h-11zM7 -10h1v1h-1zM3 -9h1v1h-1zM7 -9h1v1h-1zM11 -9h1v1h-1zM4 -8h1v1h-1zM7 -8h1v1h-1zM10 -8h1v1h-1zM4 -7h1v1h-1zM7 -7h1v1h-1zM10 -7h1v1h-1zM1 -6h13v1h-13zM6 -5h3v1h-3zM5 -4h1v1h-1zM7 -4h1v1h-1zM9 -4h1v1h-1zM4 -3h1v1h-1zM7 -3h1v1h-1zM10 -3h1v1h-1zM3 -2h1v1h-1zM7 -2h1v1h-1zM11 -2h1v1h-1zM2 -1h1v1h-1zM7 -1h1v1h-1zM12 -1h1v1h-1zM1 0h1v1h-1zM7 0h1v1h-1zM13 0h1v1h-1zM7 1h1v1h-1z"/>
<path id="g897f_15" d="M1 -12h13v1h-13zM5 -11h1v1h-1zM8 -11h1v1h-1zM5 -10h1v1h-1zM8 -10h1v1h-1zM5 -9h1v1h-1zM8 -9h1v1h-1zM2 -8h11v1h-11zM2 -7h1v1h-1zM5 -7h1v1h-1zM8 -7h1v1h-1zM12 -7h1v1h-1zM2 -6h1v1h-1zM5 -6h1v1h-1zM8 -6h1v1h-1zM12 -6h1v1h-1zM2 -5h1v1h-1zM4 -5h1v1h-1zM8 -5h1v1h-1zM12 -5h1v1h-1zM2 -4h3v1h-3zM9 -4h4v1h-4zM2 -3h1v1h-1zM12 -3h1v1h-1zM2 -2h1v1h-1zM12 -2h1v1h-1zM2 -1h1v1h-1zM12 -1h1v1h-1zM2 0h11v1h-11zM2 1h1v1h-1z"/>
<path id="g4e9a_15" d="M1 -12h13v1h-13zM5 -11h1v1h-1zM9 -11h1v1h-1zM5 -10h1v1h-1zM9 -10h1v1h-1zM5 -9h1v1h-1zM9 -9h1v1h-1zM1 -8h1v1h-1zM5 -8h1v1h-1zM9 -8h1v1h-1zM12 -8h1v1h-1zM2 -7h1v1h-1zM5 -7h1v1h-1zM9 -7h1v1h-1zM12 -7h1v1h-1zM2 -6h1v1h-1zM5 -6h1v1h-1zM9 -6h1v1h-1zM11 -6h1v1h-1zM3 -5h1v1h-1zM5 -5h1v1h-1zM9 -5h1v1h-1zM11 -5h1v1h-1zM3 -4h1v1h-1zM5 -4h1v1h-1zM9 -4h2v1h-2zM5 -3h1v1h-1zM9 -3h1v1h-1zM5 -2h1v1h-1zM9 -2h1v1h-1zM5 -1h1v1h-1zM9 -1h1v1h-1zM1 0h13v1h-13z"/>
<path id="g7f8e_15" d="M4 -12h1v1h-1zM10 -12h1v1h-1zM1 -11h12v1h-12zM7 -10h1v1h-1zM7 -9h1v1h-1zM2 -8h11v1h-11zM7 -7h1v1h-1zM1 -6h13v1h-13zM7 -5h1v1h-1zM1 -4h13v1h-13zM6 -3h2v1h-2zM6 -2h1v1h-1zM8 -2h1v1h-1zM5 -1h1v1h-1zM9 -1h1v1h-1zM3 0h2v1h-2zM10 0h2v1h-2zM1 1h2v1h-2zM12 1h2v1h-2z"/>
<path id="g7ebd_15" d="M3 -12h1v1h-1zM6 -12h7v1h-7zM3 -11h1v1h-1zM9 -11h1v1h-1zM12 -11h1v1h-1zM2 -10h1v1h-1zM8 -10h1v1h-1zM12 -10h1v1h-1zM2 -9h1v1h-1zM4 -9h1v1h-1zM8 -9h1v1h-1zM12 -9h1v1h-1zM1 -8h1v1h-1zM4 -8h1v1h-1zM8 -8h1v1h-1zM12 -8h1v1h-1zM1 -7h3v1h-3zM8 -7h1v1h-1zM12 -7h1v1h-1zM3 -6h1v1h-1zM6 -6h7v1h-7zM2 -5h1v1h-1zM8 -5h1v1h-1zM12 -5h1v1h-1zM1 -4h4v1h-4zM8 -4h1v1h-1zM12 -4h1v1h-1zM8 -3h1v1h-1zM12 -3h1v1h-1zM8 -2h1v1h-1zM12 -2h1v1h-1zM1 -1h4v1h-4zM7 -1h1v1h-1zM11 -1h1v1h-1zM5 0h9v1h-9z"/>
<path id="g7ea6_15" d="M3 -12h1v1h-1zM8 -12h1v1h-1zM3 -11h1v1h-1zM8 -11h1v1h-1zM2 -10h1v1h-1zM8 -10h6v1h-6zM2 -9h1v1h-1zM5 -9h1v1h-1zM7 -9h1v1h-1zM13 -9h1v1h-1zM1 -8h1v1h-1zM4 -8h1v1h-1zM6 -8h1v1h-1zM13 -8h1v1h-1zM1 -7h3v1h-3zM13 -7h1v1h-1zM3 -6h1v1h-1zM8 -6h1v1h-1zM13 -6h1v1h-1zM2 -5h1v1h-1zM9 -5h1v1h-1zM13 -5h1v1h-1zM1 -4h5v1h-5zM10 -4h1v1h-1zM12 -4h1v1h-1zM12 -3h1v1h-1zM12 -2h1v1h-1zM3 -1h3v1h-3zM12 -1h1v1h-1zM1 0h2v1h-2zM12 0h1v1h-1zM10 1h2v1h-2z"/>
<path id="g5dde_15" d="M8 -12h1v1h-1zM12 -12h1v1h-1zM3 -11h1v1h-1zM8 -11h1v1h-1zM12 -11h1v1h-1zM3 -10h1v1h-1zM8 -10h1v1h-1zM12 -10h1v1h-1zM3 -9h1v1h-1zM8 -9h1v1h-1zM12 -9h1v1h-1zM1 -8h1v1h-1zM3 -8h1v1h-1zM5 -8h1v1h-1zM8 -8h1v1h-1zM10 -8h1v1h-1zM12 -8h1v1h-1zM1 -7h1v1h-1zM3 -7h1v1h-1zM5 -7h1v1h-1zM8 -7h1v1h-1zM10 -7h1v1h-1zM12 -7h1v1h-1zM1 -6h1v1h-1zM3 -6h1v1h-1zM6 -6h1v1h-1zM8 -6h1v1h-1zM10 -6h1v1h-1zM12 -6h1v1h-1zM3 -5h1v1h-1zM6 -5h1v1h-1zM8 -5h1v1h-1zM12 -5h1v1h-1zM3 -4h1v1h-1zM8 -4h1v1h-1zM12 -4h1v1h-1zM3 -3h1v1h-1zM8 -3h1v1h-1zM12 -3h1v1h-1zM2 -2h1v1h-1zM8 -2h1v1h-1zM12 -2h1v1h-1zM2 -1h1v1h-1zM8 -1h1v1h-1zM12 -1h1v1h-1zM1 0h1v1h-1zM12 0h1v1h-1z"/>
<path id="g5168_15" d="M7 -13h1v1h-1zM6 -12h2v1h-2zM6 -11h1v1h-1zM8 -11h1v1h-1zM5 -10h1v1h-1zM9 -10h1v1h-1zM4 -9h1v1h-1zM10 -9h2v1h-2zM2 -8h2v1h-2zM12 -8h1v1h-1zM1 -7h1v1h-1zM3 -7h9v1h-9zM13 -7h1v1h-1zM7 -6h1v1h-1zM7 -5h1v1h-1zM7 -4h1v1h-1zM3 -3h9v1h-9zM7 -2h1v1h-1zM7 -1h1v1h-1zM1 0h13v1h-13z"/>
<path id="g7403_15" d="M9 -13h1v1h-1zM11 -13h1v1h-1zM1 -12h4v1h-4zM9 -12h1v1h-1zM12 -12h1v1h-1zM2 -11h1v1h-1zM9 -11h1v1h-1zM2 -10h1v1h-1zM6 -10h8v1h-8zM2 -9h1v1h-1zM9 -9h1v1h-1zM2 -8h1v1h-1zM6 -8h1v1h-1zM9 -8h1v1h-1zM13 -8h1v1h-1zM1 -7h4v1h-4zM7 -7h1v1h-1zM9 -7h2v1h-2zM12 -7h1v1h-1zM2 -6h1v1h-1zM7 -6h1v1h-1zM9 -6h3v1h-3zM2 -5h1v1h-1zM9 -5h3v1h-3zM2 -4h1v1h-1zM8 -4h2v1h-2zM11 -4h1v1h-1zM2 -3h1v1h-1zM7 -3h1v1h-1zM9 -3h1v1h-1zM11 -3h1v1h-1zM3 -2h2v1h-2zM6 -2h1v1h-1zM9 -2h1v1h-1zM12 -2h1v1h-1zM1 -1h2v1h-2zM5 -1h1v1h-1zM9 -1h1v1h-1zM13 -1h1v1h-1zM9 0h1v1h-1zM7 1h3v1h-3z"/>
<path id="g53f3_15" d="M6 -13h1v1h-1zM6 -12h1v1h-1zM6 -11h1v1h-1zM1 -10h13v1h-13zM5 -9h1v1h-1zM4 -8h1v1h-1zM4 -7h1v1h-1zM4 -6h9v1h-9zM3 -5h2v1h-2zM12 -5h1v1h-1zM2 -4h1v1h-1zM4 -4h1v1h-1zM12 -4h1v1h-1zM1 -3h1v1h-1zM4 -3h1v1h-1zM12 -3h1v1h-1zM4 -2h1v1h-1zM12 -2h1v1h-1zM4 -1h1v1h-1zM12 -1h1v1h-1zM4 0h9v1h-9zM4 1h1v1h-1zM12 1h1v1h-1z"/>
<path id="g8f74_15" d="M3 -13h1v1h-1zM10 -13h1v1h-1zM3 -12h1v1h-1zM10 -12h1v1h-1zM1 -11h5v1h-5zM10 -11h1v1h-1zM2 -10h1v1h-1zM10 -10h1v1h-1zM2 -9h1v1h-1zM7 -9h7v1h-7zM2 -8h1v1h-1zM4 -8h1v1h-1zM7 -8h1v1h-1zM10 -8h1v1h-1zM13 -8h1v1h-1zM1 -7h1v1h-1zM4 -7h1v1h-1zM7 -7h1v1h-1zM10 -7h1v1h-1zM13 -7h1v1h-1zM1 -6h5v1h-5zM7 -6h1v1h-1zM10 -6h1v1h-1zM13 -6h1v1h-1zM4 -5h1v1h-1zM7 -5h7v1h-7zM4 -4h1v1h-1zM7 -4h1v1h-1zM10 -4h1v1h-1zM13 -4h1v1h-1zM4 -3h2v1h-2zM7 -3h1v1h-1zM10 -3h1v1h-1zM13 -3h1v1h-1zM1 -2h4v1h-4zM7 -2h1v1h-1zM10 -2h1v1h-1zM13 -2h1v1h-1zM4 -1h1v1h-1zM7 -1h1v1h-1zM10 -1h1v1h-1zM13 -1h1v1h-1zM4 0h1v1h-1zM7 0h7v1h-7zM4 1h1v1h-1zM7 1h1v1h-1zM13 1h1v1h-1z"/>
<path id="g745e_15" d="M9 -13h1v1h-1zM1 -12h4v1h-4zM6 -12h1v1h-1zM9 -12h1v1h-1zM13 -12h1v1h-1zM2 -11h1v1h-1zM6 -11h1v1h-1zM9 -11h1v1h-1zM13 -11h1v1h-1zM2 -10h1v1h-1zM6 -10h1v1h-1zM9 -10h1v1h-1zM13 -10h1v1h-1zM2 -9h1v1h-1zM6 -9h8v1h-8zM2 -8h1v1h-1zM1 -7h13v1h-13zM2 -6h1v1h-1zM9 -6h1v1h-1zM2 -5h1v1h-1zM6 -5h8v1h-8zM2 -4h1v1h-1zM6 -4h1v1h-1zM8 -4h1v1h-1zM10 -4h1v1h-1zM13 -4h1v1h-1zM2 -3h1v1h-1zM6 -3h1v1h-1zM8 -3h1v1h-1zM10 -3h1v1h-1zM13 -3h1v1h-1zM3 -2h2v1h-2zM6 -2h1v1h-1zM8 -2h1v1h-1zM10 -2h1v1h-1zM13 -2h1v1h-1zM1 -1h2v1h-2zM6 -1h1v1h-1zM8 -1h1v1h-1zM10 -1h1v1h-1zM13 -1h1v1h-1zM6 0h1v1h-1zM8 0h1v1h-1zM10 0h1v1h-1zM13 0h1v1h-1zM6 1h1v1h-1zM8 1h1v1h-1zM12 1h2v1h-2z"/>
<path id="g5178_15" d="M5 -13h1v1h-1zM9 -13h1v1h-1zM5 -12h1v1h-1zM9 -12h1v1h-1zM2 -11h11v1h-11zM2 -10h1v1h-1zM5 -10h1v1h-1zM9 -10h1v1h-1zM12 -10h1v1h-1zM2 -9h1v1h-1zM5 -9h1v1h-1zM9 -9h1v1h-1zM12 -9h1v1h-1zM2 -8h1v1h-1zM5 -8h1v1h-1zM9 -8h1v1h-1zM12 -8h1v1h-1zM2 -7h11v1h-11zM2 -6h1v1h-1zM5 -6h1v1h-1zM9 -6h1v1h-1zM12 -6h1v1h-1zM2 -5h1v1h-1zM5 -5h1v1h-1zM9 -5h1v1h-1zM12 -5h1v1h-1zM2 -4h1v1h-1zM5 -4h1v1h-1zM9 -4h1v1h-1zM12 -4h1v1h-1zM1 -3h13v1h-13zM4 -1h1v1h-1zM10 -1h1v1h-1zM2 0h2v1h-2zM11 0h2v1h-2zM1 1h1v1h-1zM13 1h1v1h-1z"/>
<path id="g73ed_15" d="M8 -13h1v1h-1zM1 -12h4v1h-4zM8 -12h6v1h-6zM2 -11h1v1h-1zM8 -11h1v1h-1zM11 -11h1v1h-1zM2 -10h1v1h-1zM8 -10h1v1h-1zM11 -10h1v1h-1zM2 -9h1v1h-1zM5 -9h1v1h-1zM8 -9h1v1h-1zM11 -9h1v1h-1zM2 -8h1v1h-1zM5 -8h1v1h-1zM8 -8h1v1h-1zM11 -8h1v1h-1zM2 -7h1v1h-1zM5 -7h1v1h-1zM8 -7h1v1h-1zM11 -7h1v1h-1zM1 -6h5v1h-5zM8 -6h6v1h-6zM2 -5h1v1h-1zM5 -5h1v1h-1zM8 -5h1v1h-1zM11 -5h1v1h-1zM2 -4h1v1h-1zM7 -4h1v1h-1zM11 -4h1v1h-1zM2 -3h1v1h-1zM7 -3h1v1h-1zM11 -3h1v1h-1zM2 -2h1v1h-1zM4 -2h1v1h-1zM7 -2h1v1h-1zM11 -2h1v1h-1zM1 -1h3v1h-3zM7 -1h1v1h-1zM11 -1h1v1h-1zM6 0h1v1h-1zM8 0h6v1h-6zM5 1h1v1h-1z"/>
<path id="g7259_15" d="M2 -12h11v1h-11zM9 -11h1v1h-1zM3 -10h1v1h-1zM9 -10h1v1h-1zM3 -9h1v1h-1zM9 -9h1v1h-1zM2 -8h1v1h-1zM9 -8h1v1h-1zM2 -7h1v1h-1zM9 -7h1v1h-1zM2 -6h12v1h-12zM8 -5h2v1h-2zM7 -4h1v1h-1zM9 -4h1v1h-1zM6 -3h1v1h-1zM9 -3h1v1h-1zM4 -2h2v1h-2zM9 -2h1v1h-1zM2 -1h2v1h-2zM9 -1h1v1h-1zM1 0h1v1h-1zM9 0h1v1h-1zM7 1h3v1h-3z"/>
<path id="g610f_15" d="M7 -13h1v1h-1zM2 -12h11v1h-11zM4 -11h1v1h-1zM10 -11h1v1h-1zM4 -10h1v1h-1zM9 -10h1v1h-1zM1 -9h13v1h-13zM3 -7h9v1h-9zM3 -6h1v1h-1zM11 -6h1v1h-1zM3 -5h9v1h-9zM3 -4h9v1h-9zM6 -3h1v1h-1zM2 -2h1v1h-1zM4 -2h1v1h-1zM7 -2h1v1h-1zM11 -2h1v1h-1zM2 -1h1v1h-1zM4 -1h1v1h-1zM8 -1h1v1h-1zM10 -1h1v1h-1zM12 -1h1v1h-1zM1 0h1v1h-1zM4 0h1v1h-1zM10 0h1v1h-1zM13 0h1v1h-1zM5 1h5v1h-5z"/>
<path id="g5927_15" d="M7 -13h1v1h-1zM7 -12h1v1h-1zM7 -11h1v1h-1zM7 -10h1v1h-1zM7 -9h1v1h-1zM1 -8h13v1h-13zM6 -7h2v1h-2zM6 -6h1v1h-1zM8 -6h1v1h-1zM6 -5h1v1h-1zM8 -5h1v1h-1zM5 -4h1v1h-1zM9 -4h1v1h-1zM5 -3h1v1h-1zM9 -3h1v1h-1zM4 -2h1v1h-1zM10 -2h1v1h-1zM3 -1h1v1h-1zM11 -1h1v1h-1zM2 0h1v1h-1zM12 0h1v1h-1zM1 1h1v1h-1zM13 1h1v1h-1z"/>
<path id="g5229_15" d="M3 -12h4v1h-4zM13 -12h1v1h-1zM1 -11h2v1h-2zM4 -11h1v1h-1zM9 -11h1v1h-1zM13 -11h1v1h-1zM4 -10h1v1h-1zM9 -10h1v1h-1zM13 -10h1v1h-1zM4 -9h1v1h-1zM9 -9h1v1h-1zM13 -9h1v1h-1zM1 -8h7v1h-7zM9 -8h1v1h-1zM13 -8h1v1h-1zM4 -7h1v1h-1zM9 -7h1v1h-1zM13 -7h1v1h-1zM3 -6h2v1h-2zM9 -6h1v1h-1zM13 -6h1v1h-1zM2 -5h1v1h-1zM4 -5h2v1h-2zM9 -5h1v1h-1zM13 -5h1v1h-1zM2 -4h1v1h-1zM4 -4h1v1h-1zM6 -4h1v1h-1zM9 -4h1v1h-1zM13 -4h1v1h-1zM1 -3h1v1h-1zM4 -3h1v1h-1zM9 -3h1v1h-1zM13 -3h1v1h-1zM1 -2h1v1h-1zM4 -2h1v1h-1zM13 -2h1v1h-1zM4 -1h1v1h-1zM13 -1h1v1h-1zM4 0h1v1h-1zM13 0h1v1h-1zM4 1h1v1h-1zM10 1h3v1h-3z"/>
<path id="g5370_15" d="M3 -12h3v1h-3zM8 -12h6v1h-6zM1 -11h2v1h-2zM8 -11h1v1h-1zM13 -11h1v1h-1zM1 -10h1v1h-1zM8 -10h1v1h-1zM13 -10h1v1h-1zM1 -9h1v1h-1zM8 -9h1v1h-1zM13 -9h1v1h-1zM1 -8h1v1h-1zM8 -8h1v1h-1zM13 -8h1v1h-1zM2 -7h5v1h-5zM8 -7h1v1h-1zM13 -7h1v1h-1zM1 -6h1v1h-1zM8 -6h1v1h-1zM13 -6h1v1h-1zM1 -5h1v1h-1zM8 -5h1v1h-1zM13 -5h1v1h-1zM1 -4h1v1h-1zM8 -4h1v1h-1zM13 -4h1v1h-1zM1 -3h1v1h-1zM6 -3h1v1h-1zM8 -3h1v1h-1zM13 -3h1v1h-1zM1 -2h5v1h-5zM8 -2h1v1h-1zM10 -2h3v1h-3zM1 -1h1v1h-1zM8 -1h1v1h-1zM8 0h1v1h-1zM8 1h1v1h-1z"/>
<path id="g5ea6_15" d="M7 -13h1v1h-1zM8 -12h1v1h-1zM2 -11h12v1h-12zM2 -10h1v1h-1zM2 -9h1v1h-1zM5 -9h1v1h-1zM10 -9h1v1h-1zM2 -8h12v1h-12zM2 -7h1v1h-1zM5 -7h1v1h-1zM10 -7h1v1h-1zM2 -6h1v1h-1zM6 -6h5v1h-5zM2 -5h1v1h-1zM2 -4h10v1h-10zM1 -3h1v1h-1zM5 -3h1v1h-1zM11 -3h1v1h-1zM1 -2h1v1h-1zM6 -2h1v1h-1zM10 -2h2v1h-2zM1 -1h1v1h-1zM7 -1h3v1h-3zM1 0h1v1h-1zM6 0h2v1h-2zM9 0h2v1h-2zM3 1h3v1h-3zM11 1h3v1h-3z"/>
<path id="g82f1_15" d="M4 -13h1v1h-1zM9 -13h1v1h-1zM4 -12h1v1h-1zM9 -12h1v1h-1zM1 -11h13v1h-13zM4 -10h1v1h-1zM7 -10h1v1h-1zM9 -10h1v1h-1zM7 -9h1v1h-1zM3 -8h10v1h-10zM2 -7h1v1h-1zM7 -7h1v1h-1zM12 -7h1v1h-1zM2 -6h1v1h-1zM7 -6h1v1h-1zM12 -6h1v1h-1zM2 -5h1v1h-1zM7 -5h1v1h-1zM12 -5h1v1h-1zM1 -4h13v1h-13zM6 -3h1v1h-1zM8 -3h1v1h-1zM6 -2h1v1h-1zM8 -2h1v1h-1zM5 -1h1v1h-1zM9 -1h1v1h-1zM3 0h2v1h-2zM10 0h2v1h-2zM1 1h2v1h-2zM12 1h2v1h-2z"/>
<path id="g4e2d_15" d="M7 -13h1v1h-1zM7 -12h1v1h-1zM7 -11h1v1h-1zM1 -10h12v1h-12zM1 -9h1v1h-1zM7 -9h1v1h-1zM12 -9h1v1h-1zM1 -8h1v1h-1zM7 -8h1v1h-1zM12 -8h1v1h-1zM1 -7h1v1h-1zM7 -7h1v1h-1zM12 -7h1v1h-1zM1 -6h1v1h-1zM7 -6h1v1h-1zM12 -6h1v1h-1zM1 -5h1v1h-1zM7 -5h1v1h-1zM12 -5h1v1h-1zM1 -4h12v1h-12zM1 -3h1v1h-1zM7 -3h1v1h-1zM7 -2h1v1h-1zM7 -1h1v1h-1zM7 0h1v1h-1zM7 1h1v1h-1z"/>
</defs>
<g shape-rendering="crispEdges">
<rect x="176" y="98" width="1" height="344" fill="#B3B3B3"/>
<rect x="313" y="98" width="1" height="344" fill="#B3B3B3"/>
<rect x="449" y="98" width="1" height="344" fill="#B3B3B3"/>
<path fill="#F8766D" d="M135 403h9v1h-9zM131 404h4v1h-4zM144 404h4v1h-4zM128 405h3v1h-3zM148 405h10v1h-10zM125 406h3v1h-3zM158 406h3v1h-3zM121 407h4v1h-4zM161 407h2v1h-2zM118 408h3v1h-3zM163 408h2v1h-2zM116 409h2v1h-2zM165 409h2v1h-2zM114 410h2v1h-2zM167 410h3v1h-3zM113 411h1v1h-1zM170 411h4v1h-4zM111 412h2v1h-2zM174 412h4v1h-4zM110 413h1v1h-1zM178 413h3v1h-3zM108 414h2v1h-2zM181 414h3v1h-3zM107 415h1v1h-1zM184 415h5v1h-5zM105 416h2v1h-2zM189 416h7v1h-7zM104 417h1v1h-1zM196 417h7v1h-7zM102 418h2v1h-2zM203 418h4v1h-4zM100 419h2v1h-2zM207 419h4v1h-4zM98 420h2v1h-2zM211 420h15v1h-15zM96 421h2v1h-2zM226 421h8v1h-8zM92 422h4v1h-4zM234 422h8v1h-8zM88 423h4v1h-4zM242 423h40v1h-40zM84 424h4v1h-4zM282 424h58v1h-58zM81 425h3v1h-3zM340 425h87v1h-87z"/>
<path fill="#E18A00" d="M171 400h2v1h-2zM160 401h4v1h-4zM169 401h2v1h-2zM173 401h2v1h-2zM178 401h5v1h-5zM160 402h1v1h-1zM164 402h2v1h-2zM168 402h1v1h-1zM175 402h3v1h-3zM183 402h4v1h-4zM159 403h1v1h-1zM166 403h2v1h-2zM187 403h1v1h-1zM159 404h1v1h-1zM188 404h3v1h-3zM158 405h1v1h-1zM191 405h3v1h-3zM158 406h1v1h-1zM194 406h2v1h-2zM157 407h1v1h-1zM195 407h1v1h-1zM143 408h13v1h-13zM157 408h1v1h-1zM195 408h1v1h-1zM135 409h8v1h-8zM156 409h1v1h-1zM196 409h1v1h-1zM131 410h4v1h-4zM196 410h1v1h-1zM129 411h2v1h-2zM196 411h1v1h-1zM127 412h2v1h-2zM196 412h2v1h-2zM125 413h2v1h-2zM198 413h6v1h-6zM121 414h4v1h-4zM204 414h1v1h-1zM118 415h3v1h-3zM205 415h1v1h-1zM115 416h3v1h-3zM205 416h1v1h-1zM112 417h3v1h-3zM206 417h1v1h-1zM109 418h3v1h-3zM207 418h1v1h-1zM106 419h3v1h-3zM208 419h2v1h-2zM103 420h3v1h-3zM210 420h8v1h-8zM225 420h3v1h-3zM99 421h4v1h-4zM218 421h4v1h-4zM223 421h2v1h-2zM228 421h5v1h-5zM95 422h4v1h-4zM222 422h1v1h-1zM233 422h17v1h-17zM91 423h4v1h-4zM250 423h18v1h-18zM85 424h6v1h-6zM268 424h8v1h-8zM290 424h114v1h-114zM81 425h4v1h-4zM276 425h14v1h-14zM404 425h24v1h-24z"/>
<path fill="#BE9C00" d="M81 424h26v1h-26zM107 425h4v1h-4zM111 426h340v1h-340z"/>
<path fill="#8CAB00" d="M96 425h56v1h-56zM81 426h15v1h-15zM152 426h252v1h-252z"/>
<path fill="#24B700" d="M416 155h1v1h-1zM415 156h1v1h-1zM414 157h1v1h-1zM413 158h1v1h-1zM412 159h1v1h-1zM412 160h1v1h-1zM411 161h1v1h-1zM411 162h1v1h-1zM410 163h1v1h-1zM410 164h1v1h-1zM410 165h1v1h-1zM409 166h1v1h-1zM409 167h1v1h-1zM408 168h1v1h-1zM408 169h1v1h-1zM407 170h1v1h-1zM407 171h1v1h-1zM406 172h1v1h-1zM406 173h1v1h-1zM405 174h1v1h-1zM405 175h1v1h-1zM404 176h1v1h-1zM404 177h1v1h-1zM403 178h1v1h-1zM403 179h1v1h-1zM402 180h1v1h-1zM402 181h1v1h-1zM401 182h1v1h-1zM401 183h1v1h-1zM400 184h1v1h-1zM400 185h1v1h-1zM399 186h1v1h-1zM399 187h1v1h-1zM398 188h1v1h-1zM398 189h1v1h-1zM397 190h1v1h-1zM397 191h1v1h-1zM396 192h1v1h-1zM396 193h1v1h-1zM396 194h1v1h-1zM395 195h1v1h-1zM395 196h1v1h-1zM394 197h1v1h-1zM394 198h1v1h-1zM394 199h1v1h-1zM393 200h1v1h-1zM393 201h1v1h-1zM393 202h1v1h-1zM392 203h1v1h-1zM392 204h1v1h-1zM391 205h1v1h-1zM391 206h1v1h-1zM391 207h1v1h-1zM390 208h1v1h-1zM390 209h1v1h-1zM390 210h1v1h-1zM389 211h1v1h-1zM389 212h1v1h-1zM389 213h1v1h-1zM388 214h1v1h-1zM388 215h1v1h-1zM387 216h1v1h-1zM387 217h1v1h-1zM387 218h1v1h-1zM386 219h1v1h-1zM386 220h1v1h-1zM386 221h1v1h-1zM385 222h1v1h-1zM385 223h1v1h-1zM384 224h1v1h-1zM384 225h1v1h-1zM384 226h1v1h-1zM383 227h1v1h-1zM383 228h1v1h-1zM382 229h1v1h-1zM382 230h1v1h-1zM382 231h1v1h-1zM381 232h1v1h-1zM381 233h1v1h-1zM380 234h1v1h-1zM380 235h1v1h-1zM380 236h1v1h-1zM379 237h1v1h-1zM379 238h1v1h-1zM378 239h1v1h-1zM378 240h1v1h-1zM378 241h1v1h-1zM377 242h1v1h-1zM377 243h1v1h-1zM376 244h1v1h-1zM376 245h1v1h-1zM375 246h1v1h-1zM375 247h1v1h-1zM374 248h1v1h-1zM374 249h1v1h-1zM374 250h1v1h-1zM373 251h1v1h-1zM373 252h1v1h-1zM372 253h1v1h-1zM372 254h1v1h-1zM371 255h1v1h-1zM371 256h1v1h-1zM370 257h1v1h-1zM370 258h1v1h-1zM369 259h1v1h-1zM369 260h1v1h-1zM369 261h1v1h-1zM368 262h1v1h-1zM368 263h1v1h-1zM368 264h1v1h-1zM367 265h1v1h-1zM367 266h1v1h-1zM367 267h1v1h-1zM366 268h1v1h-1zM366 269h1v1h-1zM366 270h1v1h-1zM365 271h1v1h-1zM365 272h1v1h-1zM364 273h1v1h-1zM364 274h1v1h-1zM363 275h1v1h-1zM363 276h1v1h-1zM362 277h1v1h-1zM362 278h1v1h-1zM361 279h1v1h-1zM361 280h1v1h-1zM360 281h1v1h-1zM360 282h1v1h-1zM360 283h1v1h-1zM359 284h1v1h-1zM359 285h1v1h-1zM358 286h1v1h-1zM358 287h1v1h-1zM357 288h1v1h-1zM357 289h1v1h-1zM356 290h1v1h-1zM356 291h1v1h-1zM355 292h1v1h-1zM355 293h1v1h-1zM354 294h1v1h-1zM160 295h3v1h-3zM354 295h1v1h-1zM156 296h4v1h-4zM163 296h2v1h-2zM353 296h1v1h-1zM152 297h4v1h-4zM165 297h3v1h-3zM353 297h1v1h-1zM149 298h3v1h-3zM168 298h3v1h-3zM353 298h1v1h-1zM148 299h1v1h-1zM171 299h2v1h-2zM184 299h4v1h-4zM352 299h1v1h-1zM147 300h1v1h-1zM173 300h2v1h-2zM182 300h2v1h-2zM188 300h3v1h-3zM352 300h1v1h-1zM147 301h1v1h-1zM175 301h7v1h-7zM191 301h2v1h-2zM203 301h3v1h-3zM352 301h1v1h-1zM146 302h1v1h-1zM193 302h10v1h-10zM206 302h4v1h-4zM351 302h1v1h-1zM145 303h1v1h-1zM210 303h4v1h-4zM351 303h1v1h-1zM144 304h1v1h-1zM214 304h1v1h-1zM351 304h1v1h-1zM144 305h1v1h-1zM215 305h1v1h-1zM350 305h1v1h-1zM143 306h1v1h-1zM216 306h2v1h-2zM350 306h1v1h-1zM143 307h1v1h-1zM218 307h1v1h-1zM349 307h1v1h-1zM142 308h1v1h-1zM219 308h1v1h-1zM349 308h1v1h-1zM141 309h1v1h-1zM220 309h1v1h-1zM348 309h1v1h-1zM141 310h1v1h-1zM221 310h1v1h-1zM347 310h1v1h-1zM140 311h1v1h-1zM222 311h1v1h-1zM347 311h1v1h-1zM139 312h1v1h-1zM223 312h1v1h-1zM346 312h1v1h-1zM139 313h1v1h-1zM224 313h1v1h-1zM345 313h1v1h-1zM138 314h1v1h-1zM225 314h2v1h-2zM345 314h1v1h-1zM138 315h1v1h-1zM227 315h3v1h-3zM344 315h1v1h-1zM137 316h1v1h-1zM230 316h2v1h-2zM343 316h1v1h-1zM137 317h1v1h-1zM232 317h3v1h-3zM343 317h1v1h-1zM136 318h1v1h-1zM235 318h2v1h-2zM342 318h1v1h-1zM136 319h1v1h-1zM237 319h1v1h-1zM341 319h1v1h-1zM135 320h1v1h-1zM238 320h1v1h-1zM340 320h1v1h-1zM135 321h1v1h-1zM239 321h2v1h-2zM340 321h1v1h-1zM134 322h1v1h-1zM241 322h1v1h-1zM339 322h1v1h-1zM134 323h1v1h-1zM242 323h1v1h-1zM338 323h1v1h-1zM133 324h1v1h-1zM243 324h4v1h-4zM337 324h1v1h-1zM133 325h1v1h-1zM247 325h6v1h-6zM336 325h1v1h-1zM132 326h1v1h-1zM253 326h2v1h-2zM335 326h1v1h-1zM132 327h1v1h-1zM255 327h2v1h-2zM335 327h1v1h-1zM131 328h1v1h-1zM257 328h2v1h-2zM334 328h1v1h-1zM131 329h1v1h-1zM259 329h6v1h-6zM333 329h1v1h-1zM131 330h1v1h-1zM265 330h6v1h-6zM332 330h1v1h-1zM130 331h1v1h-1zM271 331h2v1h-2zM330 331h2v1h-2zM130 332h1v1h-1zM273 332h7v1h-7zM328 332h2v1h-2zM129 333h1v1h-1zM280 333h8v1h-8zM326 333h2v1h-2zM129 334h1v1h-1zM288 334h3v1h-3zM323 334h3v1h-3zM128 335h1v1h-1zM291 335h2v1h-2zM297 335h4v1h-4zM317 335h6v1h-6zM128 336h1v1h-1zM293 336h4v1h-4zM301 336h2v1h-2zM309 336h8v1h-8zM127 337h1v1h-1zM303 337h6v1h-6zM127 338h1v1h-1zM127 339h1v1h-1zM126 340h1v1h-1zM126 341h1v1h-1zM126 342h1v1h-1zM126 343h1v1h-1zM125 344h1v1h-1zM125 345h1v1h-1zM125 346h1v1h-1zM124 347h1v1h-1zM124 348h1v1h-1zM124 349h1v1h-1zM123 350h1v1h-1zM123 351h1v1h-1zM123 352h1v1h-1zM122 353h1v1h-1zM122 354h1v1h-1zM122 355h1v1h-1zM121 356h1v1h-1zM121 357h1v1h-1zM121 358h1v1h-1zM120 359h1v1h-1zM120 360h1v1h-1zM120 361h1v1h-1zM119 362h1v1h-1zM119 363h1v1h-1zM118 364h1v1h-1zM118 365h1v1h-1zM118 366h1v1h-1zM117 367h1v1h-1zM117 368h1v1h-1zM116 369h1v1h-1zM116 370h1v1h-1zM116 371h1v1h-1zM115 372h1v1h-1zM115 373h1v1h-1zM115 374h1v1h-1zM115 375h1v1h-1zM114 376h1v1h-1zM114 377h1v1h-1zM114 378h1v1h-1zM113 379h1v1h-1zM113 380h1v1h-1zM113 381h1v1h-1zM112 382h1v1h-1zM112 383h1v1h-1zM111 384h1v1h-1zM111 385h1v1h-1zM110 386h1v1h-1zM110 387h1v1h-1zM109 388h1v1h-1zM109 389h1v1h-1zM108 390h1v1h-1zM108 391h1v1h-1zM107 392h1v1h-1zM107 393h1v1h-1zM106 394h1v1h-1zM106 395h1v1h-1zM105 396h1v1h-1zM105 397h1v1h-1zM104 398h1v1h-1zM104 399h1v1h-1zM103 400h1v1h-1zM103 401h1v1h-1zM102 402h1v1h-1zM102 403h1v1h-1zM101 404h1v1h-1zM101 405h1v1h-1zM100 406h1v1h-1zM100 407h1v1h-1zM99 408h1v1h-1zM98 409h1v1h-1zM97 410h1v1h-1zM97 411h1v1h-1zM96 412h1v1h-1zM95 413h1v1h-1zM94 414h1v1h-1zM93 415h1v1h-1zM92 416h1v1h-1zM91 417h1v1h-1zM90 418h1v1h-1zM89 419h1v1h-1zM87 420h2v1h-2zM85 421h2v1h-2zM83 422h2v1h-2zM81 423h2v1h-2z"/>
<path fill="#00BE70" d="M135 386h5v1h-5zM144 386h8v1h-8zM131 387h4v1h-4zM140 387h4v1h-4zM152 387h3v1h-3zM129 388h2v1h-2zM155 388h2v1h-2zM127 389h2v1h-2zM157 389h2v1h-2zM125 390h2v1h-2zM159 390h2v1h-2zM122 391h3v1h-3zM161 391h2v1h-2zM120 392h2v1h-2zM163 392h2v1h-2zM118 393h2v1h-2zM165 393h2v1h-2zM117 394h1v1h-1zM167 394h2v1h-2zM115 395h2v1h-2zM169 395h6v1h-6zM114 396h1v1h-1zM175 396h6v1h-6zM113 397h1v1h-1zM181 397h1v1h-1zM111 398h2v1h-2zM182 398h1v1h-1zM109 399h2v1h-2zM183 399h2v1h-2zM107 400h2v1h-2zM185 400h1v1h-1zM106 401h1v1h-1zM186 401h2v1h-2zM105 402h1v1h-1zM188 402h4v1h-4zM104 403h1v1h-1zM192 403h4v1h-4zM102 404h2v1h-2zM196 404h4v1h-4zM101 405h1v1h-1zM200 405h5v1h-5zM100 406h1v1h-1zM205 406h4v1h-4zM99 407h1v1h-1zM209 407h1v1h-1zM98 408h1v1h-1zM210 408h1v1h-1zM97 409h1v1h-1zM211 409h1v1h-1zM96 410h1v1h-1zM212 410h1v1h-1zM96 411h1v1h-1zM213 411h2v1h-2zM95 412h1v1h-1zM215 412h2v1h-2zM94 413h1v1h-1zM217 413h5v1h-5zM93 414h1v1h-1zM222 414h6v1h-6zM91 415h2v1h-2zM228 415h5v1h-5zM90 416h1v1h-1zM233 416h6v1h-6zM89 417h1v1h-1zM239 417h6v1h-6zM87 418h2v1h-2zM245 418h6v1h-6zM85 419h2v1h-2zM251 419h6v1h-6zM83 420h2v1h-2zM257 420h42v1h-42zM81 421h2v1h-2zM299 421h2v1h-2zM301 422h18v1h-18zM319 423h72v1h-72zM391 424h12v1h-12z"/>
<path fill="#00C1AB" d="M530 113h1v1h-1zM529 114h1v1h-1zM529 115h1v1h-1zM528 116h1v1h-1zM527 117h1v1h-1zM527 118h1v1h-1zM526 119h1v1h-1zM525 120h1v1h-1zM525 121h1v1h-1zM524 122h1v1h-1zM523 123h1v1h-1zM522 124h1v1h-1zM522 125h1v1h-1zM521 126h1v1h-1zM520 127h1v1h-1zM519 128h1v1h-1zM518 129h1v1h-1zM517 130h1v1h-1zM516 131h1v1h-1zM516 132h1v1h-1zM515 133h1v1h-1zM514 134h1v1h-1zM513 135h1v1h-1zM513 136h1v1h-1zM512 137h1v1h-1zM511 138h1v1h-1zM510 139h1v1h-1zM509 140h1v1h-1zM509 141h1v1h-1zM508 142h1v1h-1zM507 143h1v1h-1zM506 144h1v1h-1zM506 145h1v1h-1zM505 146h1v1h-1zM505 147h1v1h-1zM504 148h1v1h-1zM504 149h1v1h-1zM503 150h1v1h-1zM503 151h1v1h-1zM502 152h1v1h-1zM502 153h1v1h-1zM501 154h1v1h-1zM501 155h1v1h-1zM500 156h1v1h-1zM500 157h1v1h-1zM499 158h1v1h-1zM499 159h1v1h-1zM498 160h1v1h-1zM498 161h1v1h-1zM497 162h1v1h-1zM497 163h1v1h-1zM496 164h1v1h-1zM495 165h1v1h-1zM494 166h1v1h-1zM494 167h1v1h-1zM493 168h1v1h-1zM492 169h1v1h-1zM491 170h1v1h-1zM490 171h1v1h-1zM490 172h1v1h-1zM489 173h1v1h-1zM488 174h1v1h-1zM487 175h1v1h-1zM487 176h1v1h-1zM486 177h1v1h-1zM486 178h1v1h-1zM485 179h1v1h-1zM485 180h1v1h-1zM484 181h1v1h-1zM484 182h1v1h-1zM483 183h1v1h-1zM483 184h1v1h-1zM482 185h1v1h-1zM482 186h1v1h-1zM481 187h1v1h-1zM481 188h1v1h-1zM480 189h1v1h-1zM479 190h1v1h-1zM478 191h1v1h-1zM478 192h1v1h-1zM477 193h1v1h-1zM476 194h1v1h-1zM475 195h1v1h-1zM474 196h1v1h-1zM473 197h1v1h-1zM473 198h1v1h-1zM472 199h1v1h-1zM471 200h1v1h-1zM470 201h1v1h-1zM470 202h1v1h-1zM469 203h1v1h-1zM469 204h1v1h-1zM468 205h1v1h-1zM468 206h1v1h-1zM468 207h1v1h-1zM467 208h1v1h-1zM467 209h1v1h-1zM466 210h1v1h-1zM466 211h1v1h-1zM465 212h1v1h-1zM464 213h1v1h-1zM463 214h1v1h-1zM463 215h1v1h-1zM462 216h1v1h-1zM461 217h1v1h-1zM460 218h1v1h-1zM459 219h1v1h-1zM459 220h1v1h-1zM458 221h1v1h-1zM458 222h1v1h-1zM457 223h1v1h-1zM457 224h1v1h-1zM456 225h1v1h-1zM454 226h2v1h-2zM453 227h1v1h-1zM451 228h2v1h-2zM450 229h1v1h-1zM450 230h1v1h-1zM449 231h1v1h-1zM449 232h1v1h-1zM448 233h1v1h-1zM448 234h1v1h-1zM447 235h1v1h-1zM447 236h1v1h-1zM445 237h2v1h-2zM444 238h1v1h-1zM443 239h1v1h-1zM442 240h1v1h-1zM442 241h1v1h-1zM441 242h1v1h-1zM441 243h1v1h-1zM440 244h1v1h-1zM440 245h1v1h-1zM439 246h1v1h-1zM438 247h1v1h-1zM437 248h1v1h-1zM435 249h2v1h-2zM434 250h1v1h-1zM433 251h1v1h-1zM431 252h2v1h-2zM427 253h4v1h-4zM425 254h2v1h-2zM424 255h1v1h-1zM423 256h1v1h-1zM422 257h1v1h-1zM421 258h1v1h-1zM420 259h1v1h-1zM419 260h1v1h-1zM418 261h1v1h-1zM417 262h1v1h-1zM416 263h1v1h-1zM414 264h2v1h-2zM413 265h1v1h-1zM412 266h1v1h-1zM411 267h1v1h-1zM410 268h1v1h-1zM408 269h2v1h-2zM407 270h1v1h-1zM406 271h1v1h-1zM404 272h2v1h-2zM403 273h1v1h-1zM402 274h1v1h-1zM400 275h2v1h-2zM398 276h2v1h-2zM396 277h2v1h-2zM395 278h1v1h-1zM394 279h1v1h-1zM393 280h1v1h-1zM393 281h1v1h-1zM392 282h1v1h-1zM391 283h1v1h-1zM390 284h1v1h-1zM389 285h1v1h-1zM389 286h1v1h-1zM388 287h1v1h-1zM387 288h1v1h-1zM385 289h2v1h-2zM383 290h2v1h-2zM381 291h2v1h-2zM379 292h2v1h-2zM377 293h2v1h-2zM375 294h2v1h-2zM373 295h2v1h-2zM371 296h2v1h-2zM369 297h2v1h-2zM368 298h1v1h-1zM366 299h2v1h-2zM365 300h1v1h-1zM363 301h2v1h-2zM362 302h1v1h-1zM360 303h2v1h-2zM357 304h3v1h-3zM353 305h4v1h-4zM349 306h4v1h-4zM346 307h3v1h-3zM343 308h3v1h-3zM280 309h9v1h-9zM296 309h4v1h-4zM340 309h3v1h-3zM274 310h6v1h-6zM289 310h7v1h-7zM300 310h1v1h-1zM329 310h11v1h-11zM265 311h3v1h-3zM272 311h2v1h-2zM301 311h1v1h-1zM305 311h4v1h-4zM327 311h2v1h-2zM264 312h1v1h-1zM268 312h4v1h-4zM302 312h3v1h-3zM309 312h3v1h-3zM315 312h4v1h-4zM323 312h4v1h-4zM263 313h1v1h-1zM312 313h3v1h-3zM319 313h4v1h-4zM262 314h1v1h-1zM261 315h1v1h-1zM259 316h2v1h-2zM258 317h1v1h-1zM256 318h2v1h-2zM255 319h1v1h-1zM254 320h1v1h-1zM253 321h1v1h-1zM252 322h1v1h-1zM251 323h1v1h-1zM250 324h1v1h-1zM250 325h1v1h-1zM249 326h1v1h-1zM248 327h1v1h-1zM247 328h1v1h-1zM246 329h1v1h-1zM245 330h1v1h-1zM244 331h1v1h-1zM244 332h1v1h-1zM243 333h1v1h-1zM243 334h1v1h-1zM242 335h1v1h-1zM242 336h1v1h-1zM241 337h1v1h-1zM240 338h1v1h-1zM240 339h1v1h-1zM239 340h1v1h-1zM239 341h1v1h-1zM238 342h1v1h-1zM238 343h1v1h-1zM237 344h1v1h-1zM237 345h1v1h-1zM236 346h1v1h-1zM236 347h1v1h-1zM235 348h1v1h-1zM235 349h1v1h-1zM234 350h1v1h-1zM234 351h1v1h-1zM233 352h1v1h-1zM233 353h1v1h-1zM232 354h1v1h-1zM232 355h1v1h-1zM231 356h1v1h-1zM231 357h1v1h-1zM230 358h1v1h-1zM230 359h1v1h-1zM229 360h1v1h-1zM229 361h1v1h-1zM228 362h1v1h-1zM228 363h1v1h-1zM228 364h1v1h-1zM227 365h1v1h-1zM227 366h1v1h-1zM226 367h1v1h-1zM226 368h1v1h-1zM225 369h1v1h-1zM225 370h1v1h-1zM224 371h1v1h-1zM224 372h1v1h-1zM223 373h1v1h-1zM223 374h1v1h-1zM222 375h1v1h-1zM222 376h1v1h-1zM221 377h1v1h-1zM221 378h1v1h-1zM220 379h1v1h-1zM220 380h1v1h-1zM220 381h1v1h-1zM219 382h1v1h-1zM219 383h1v1h-1zM218 384h1v1h-1zM218 385h1v1h-1zM217 386h1v1h-1zM217 387h1v1h-1zM216 388h1v1h-1zM216 389h1v1h-1zM215 390h1v1h-1zM215 391h1v1h-1zM214 392h1v1h-1zM214 393h1v1h-1zM213 394h1v1h-1zM212 395h1v1h-1zM211 396h1v1h-1zM211 397h1v1h-1zM210 398h1v1h-1zM209 399h1v1h-1zM208 400h1v1h-1zM207 401h1v1h-1zM206 402h1v1h-1zM206 403h1v1h-1zM205 404h1v1h-1zM204 405h1v1h-1zM203 406h1v1h-1zM202 407h1v1h-1zM201 408h1v1h-1zM200 409h1v1h-1zM199 410h1v1h-1zM198 411h1v1h-1zM197 412h1v1h-1zM195 413h2v1h-2zM193 414h2v1h-2zM191 415h2v1h-2zM189 416h2v1h-2zM186 417h3v1h-3zM184 418h2v1h-2zM181 419h3v1h-3zM177 420h4v1h-4zM103 421h24v1h-24zM175 421h2v1h-2zM92 422h11v1h-11zM127 422h22v1h-22zM173 422h2v1h-2zM85 423h7v1h-7zM149 423h24v1h-24zM81 424h4v1h-4z"/>
<path fill="#00BBDA" d="M321 421h42v1h-42zM307 422h14v1h-14zM363 422h29v1h-29zM192 423h3v1h-3zM275 423h32v1h-32zM392 423h18v1h-18zM120 424h72v1h-72zM195 424h80v1h-80zM81 425h39v1h-39z"/>
<path fill="#00ACFC" d="M134 394h5v1h-5zM130 395h4v1h-4zM139 395h3v1h-3zM128 396h2v1h-2zM142 396h2v1h-2zM126 397h2v1h-2zM144 397h2v1h-2zM124 398h2v1h-2zM146 398h3v1h-3zM122 399h2v1h-2zM149 399h7v1h-7zM120 400h2v1h-2zM156 400h2v1h-2zM119 401h1v1h-1zM158 401h2v1h-2zM118 402h1v1h-1zM160 402h1v1h-1zM116 403h2v1h-2zM161 403h1v1h-1zM115 404h1v1h-1zM162 404h3v1h-3zM114 405h1v1h-1zM165 405h5v1h-5zM113 406h1v1h-1zM170 406h4v1h-4zM112 407h1v1h-1zM174 407h5v1h-5zM110 408h2v1h-2zM179 408h5v1h-5zM109 409h1v1h-1zM184 409h1v1h-1zM108 410h1v1h-1zM185 410h2v1h-2zM107 411h1v1h-1zM187 411h1v1h-1zM106 412h1v1h-1zM188 412h2v1h-2zM104 413h2v1h-2zM190 413h2v1h-2zM195 413h4v1h-4zM103 414h1v1h-1zM192 414h3v1h-3zM199 414h1v1h-1zM102 415h1v1h-1zM200 415h2v1h-2zM100 416h2v1h-2zM202 416h1v1h-1zM98 417h2v1h-2zM203 417h2v1h-2zM96 418h2v1h-2zM205 418h4v1h-4zM93 419h3v1h-3zM209 419h4v1h-4zM90 420h3v1h-3zM213 420h4v1h-4zM225 420h3v1h-3zM87 421h3v1h-3zM217 421h3v1h-3zM224 421h1v1h-1zM228 421h10v1h-10zM83 422h4v1h-4zM220 422h2v1h-2zM224 422h1v1h-1zM238 422h21v1h-21zM81 423h2v1h-2zM222 423h2v1h-2zM259 423h28v1h-28zM287 424h53v1h-53zM340 425h82v1h-82z"/>
<path fill="#8B93FF" d="M137 403h15v1h-15zM134 404h3v1h-3zM152 404h3v1h-3zM129 405h5v1h-5zM155 405h4v1h-4zM125 406h4v1h-4zM159 406h10v1h-10zM123 407h2v1h-2zM169 407h10v1h-10zM121 408h2v1h-2zM179 408h5v1h-5zM118 409h3v1h-3zM184 409h2v1h-2zM115 410h3v1h-3zM186 410h12v1h-12zM113 411h2v1h-2zM198 411h5v1h-5zM111 412h2v1h-2zM203 412h6v1h-6zM110 413h1v1h-1zM209 413h6v1h-6zM108 414h2v1h-2zM215 414h6v1h-6zM106 415h2v1h-2zM221 415h11v1h-11zM104 416h2v1h-2zM232 416h4v1h-4zM102 417h2v1h-2zM236 417h4v1h-4zM100 418h2v1h-2zM240 418h7v1h-7zM96 419h4v1h-4zM247 419h8v1h-8zM93 420h3v1h-3zM255 420h9v1h-9zM90 421h3v1h-3zM264 421h8v1h-8zM86 422h4v1h-4zM272 422h17v1h-17zM83 423h3v1h-3zM289 423h30v1h-30zM81 424h2v1h-2zM319 424h70v1h-70zM389 425h54v1h-54z"/>
<path fill="#D575FE" d="M389 297h1v1h-1zM388 298h1v1h-1zM388 299h1v1h-1zM387 300h1v1h-1zM386 301h1v1h-1zM386 302h1v1h-1zM385 303h1v1h-1zM384 304h1v1h-1zM383 305h1v1h-1zM383 306h1v1h-1zM382 307h1v1h-1zM381 308h1v1h-1zM380 309h1v1h-1zM380 310h1v1h-1zM379 311h1v1h-1zM379 312h1v1h-1zM378 313h1v1h-1zM378 314h1v1h-1zM377 315h1v1h-1zM377 316h1v1h-1zM376 317h1v1h-1zM375 318h1v1h-1zM374 319h1v1h-1zM373 320h1v1h-1zM373 321h1v1h-1zM372 322h1v1h-1zM371 323h1v1h-1zM370 324h1v1h-1zM369 325h1v1h-1zM368 326h1v1h-1zM368 327h1v1h-1zM367 328h1v1h-1zM366 329h1v1h-1zM365 330h1v1h-1zM364 331h1v1h-1zM363 332h1v1h-1zM362 333h1v1h-1zM361 334h1v1h-1zM360 335h1v1h-1zM359 336h1v1h-1zM357 337h2v1h-2zM356 338h1v1h-1zM354 339h2v1h-2zM353 340h1v1h-1zM352 341h1v1h-1zM351 342h1v1h-1zM350 343h1v1h-1zM349 344h1v1h-1zM349 345h1v1h-1zM348 346h1v1h-1zM347 347h1v1h-1zM346 348h1v1h-1zM345 349h1v1h-1zM344 350h1v1h-1zM343 351h1v1h-1zM342 352h1v1h-1zM341 353h1v1h-1zM339 354h2v1h-2zM338 355h1v1h-1zM337 356h1v1h-1zM336 357h1v1h-1zM335 358h1v1h-1zM333 359h2v1h-2zM332 360h1v1h-1zM331 361h1v1h-1zM329 362h2v1h-2zM328 363h1v1h-1zM327 364h1v1h-1zM325 365h2v1h-2zM324 366h1v1h-1zM323 367h1v1h-1zM321 368h2v1h-2zM320 369h1v1h-1zM319 370h1v1h-1zM317 371h2v1h-2zM316 372h1v1h-1zM315 373h1v1h-1zM313 374h2v1h-2zM311 375h2v1h-2zM309 376h2v1h-2zM307 377h2v1h-2zM305 378h2v1h-2zM303 379h2v1h-2zM300 380h3v1h-3zM297 381h3v1h-3zM293 382h4v1h-4zM290 383h3v1h-3zM287 384h3v1h-3zM285 385h2v1h-2zM282 386h3v1h-3zM280 387h2v1h-2zM277 388h3v1h-3zM275 389h2v1h-2zM272 390h3v1h-3zM269 391h3v1h-3zM266 392h3v1h-3zM263 393h3v1h-3zM260 394h3v1h-3zM257 395h3v1h-3zM255 396h2v1h-2zM252 397h3v1h-3zM250 398h2v1h-2zM248 399h2v1h-2zM245 400h3v1h-3zM243 401h2v1h-2zM240 402h3v1h-3zM238 403h2v1h-2zM236 404h2v1h-2zM234 405h2v1h-2zM232 406h2v1h-2zM229 407h3v1h-3zM225 408h4v1h-4zM222 409h3v1h-3zM215 410h7v1h-7zM208 411h7v1h-7zM203 412h5v1h-5zM198 413h5v1h-5zM194 414h4v1h-4zM191 415h3v1h-3zM187 416h4v1h-4zM184 417h3v1h-3zM177 418h7v1h-7zM161 419h16v1h-16zM159 420h2v1h-2zM143 421h16v1h-16zM128 422h15v1h-15zM115 423h13v1h-13zM102 424h13v1h-13zM88 425h14v1h-14zM81 426h7v1h-7z"/>
<path fill="#F962DD" d="M155 405h4v1h-4zM152 406h3v1h-3zM159 406h52v1h-52zM144 407h8v1h-8zM211 407h5v1h-5zM140 408h4v1h-4zM216 408h8v1h-8zM137 409h3v1h-3zM224 409h8v1h-8zM134 410h3v1h-3zM232 410h4v1h-4zM131 411h3v1h-3zM236 411h4v1h-4zM128 412h3v1h-3zM240 412h7v1h-7zM125 413h3v1h-3zM247 413h8v1h-8zM123 414h2v1h-2zM255 414h7v1h-7zM121 415h2v1h-2zM262 415h6v1h-6zM118 416h3v1h-3zM268 416h6v1h-6zM116 417h2v1h-2zM274 417h6v1h-6zM113 418h3v1h-3zM280 418h8v1h-8zM111 419h2v1h-2zM288 419h8v1h-8zM108 420h3v1h-3zM296 420h8v1h-8zM105 421h3v1h-3zM304 421h54v1h-54zM103 422h2v1h-2zM358 422h42v1h-42zM98 423h5v1h-5zM400 423h21v1h-21zM91 424h7v1h-7zM85 425h6v1h-6zM81 426h4v1h-4z"/>
<path fill="#FF65AC" d="M101 409h10v1h-10zM99 410h2v1h-2zM111 410h4v1h-4zM98 411h1v1h-1zM115 411h2v1h-2zM98 412h1v1h-1zM117 412h8v1h-8zM96 413h2v1h-2zM125 413h3v1h-3zM91 414h5v1h-5zM128 414h2v1h-2zM87 415h4v1h-4zM130 415h5v1h-5zM83 416h4v1h-4zM135 416h1v1h-1zM81 417h2v1h-2zM136 417h1v1h-1zM136 418h1v1h-1zM137 419h1v1h-1zM138 420h2v1h-2zM140 421h5v1h-5zM145 422h7v1h-7zM152 423h6v1h-6zM158 424h7v1h-7zM165 425h11v1h-11zM176 426h355v1h-355z"/>
<g fill="#F8766D"><use href="#g5fb7_14" x="398" y="404"/><use href="#g56fd_14" x="412" y="404"/></g>
<g fill="#E18A00"><use href="#g6cd5_14" x="399" y="401"/><use href="#g56fd_14" x="413" y="401"/></g>
<g fill="#BE9C00"><use href="#g97e9_14" x="423" y="424"/><use href="#g56fd_14" x="437" y="424"/></g>
<g fill="#8CAB00"><use href="#g9a6c_14" x="345" y="426"/><use href="#g6765_14" x="359" y="426"/><use href="#g897f_14" x="374" y="426"/><use href="#g4e9a_14" x="388" y="426"/></g>
<g fill="#24B700"><use href="#g7f8e_14" x="388" y="156"/><use href="#g56fd_14" x="402" y="156"/></g>
<g fill="#00BE70"><use href="#g7f8e_14" x="331" y="387"/><use href="#g56fd_14" x="346" y="387"/><use href="#g7ebd_14" x="360" y="387"/><use href="#g7ea6_14" x="374" y="387"/><use href="#g5dde_14" x="388" y="387"/></g>
<g fill="#00C1AB"><use href="#g5168_14" x="446" y="114"/><use href="#g7403_14" x="460" y="114"/><use href="#gff08_14" x="472" y="114"/><use href="#g53f3_14" x="488" y="114"/><use href="#g8f74_14" x="502" y="114"/><use href="#gff09_14" x="518" y="114"/></g>
<g fill="#00BBDA"><use href="#g745e_14" x="381" y="422"/><use href="#g5178_14" x="395" y="422"/></g>
<g fill="#00ACFC"><use href="#g897f_14" x="378" y="396"/><use href="#g73ed_14" x="392" y="396"/><use href="#g7259_14" x="407" y="396"/></g>
<g fill="#8B93FF"><use href="#g610f_14" x="401" y="404"/><use href="#g5927_14" x="415" y="404"/><use href="#g5229_14" x="429" y="404"/></g>
<g fill="#D575FE"><use href="#g5370_14" x="361" y="299"/><use href="#g5ea6_14" x="375" y="299"/></g>
<g fill="#F962DD"><use href="#g82f1_14" x="394" y="406"/><use href="#g56fd_14" x="408" y="406"/></g>
<g fill="#FF65AC"><use href="#g4e2d_14" x="502" y="410"/><use href="#g56fd_14" x="517" y="410"/></g>
<rect x="59" y="98" width="1" height="345" fill="#000"/>
<rect x="553" y="98" width="1" height="345" fill="#000"/>
<rect x="59" y="442" width="495" height="1" fill="#000"/>
<rect x="54" y="426" width="5" height="1" fill="#000"/>
<rect x="54" y="340" width="5" height="1" fill="#000"/>
<rect x="54" y="254" width="5" height="1" fill="#000"/>
<rect x="54" y="168" width="5" height="1" fill="#000"/>
<rect x="554" y="426" width="4" height="1" fill="#000"/>
<rect x="554" y="354" width="4" height="1" fill="#000"/>
<rect x="554" y="283" width="4" height="1" fill="#000"/>
<rect x="554" y="211" width="4" height="1" fill="#000"/>
<rect x="554" y="139" width="4" height="1" fill="#000"/>
<rect x="176" y="443" width="1" height="3" fill="#000"/>
<rect x="313" y="443" width="1" height="3" fill="#000"/>
<rect x="449" y="443" width="1" height="3" fill="#000"/>
<g font-family="'Liberation Sans',sans-serif" font-size="10.67px" fill="#4D4D4D">
<text x="49.6" y="432.3" text-anchor="end">0</text>
<text x="49.6" y="346.1" text-anchor="end">20000</text>
<text x="49.6" y="259.3" text-anchor="end">40000</text>
<text x="49.6" y="173.3" text-anchor="end">60000</text>
<text x="561" y="431.6" text-anchor="start">0</text>
<text x="561" y="359.6" text-anchor="start">50000</text>
<text x="561" y="287.8" text-anchor="start">100000</text>
<text x="561" y="216.6" text-anchor="start">150000</text>
<text x="561" y="144.6" text-anchor="start">200000</text>
<text x="176" y="460" text-anchor="middle">50</text>
<text x="313.3" y="460" text-anchor="middle">100</text>
<text x="449.5" y="460" text-anchor="middle">150</text>
</g>
<g fill="#000"><use href="#g786e_15" x="200" y="477"/><use href="#g8bca_15" x="216" y="477"/><use href="#g75c5_15" x="232" y="477"/><use href="#g4f8b_15" x="248" y="477"/><use href="#g8fbe_15" x="264" y="477"/><use href="#g5230_15" x="280" y="477"/></g>
<g fill="#000"><use href="#g4f8b_15" x="316" y="477"/><use href="#g540e_15" x="333" y="477"/><use href="#gff08_15" x="347" y="477"/><use href="#g5929_15" x="366" y="477"/><use href="#g6570_15" x="382" y="477"/><use href="#gff09_15" x="399" y="477"/></g>
<text x="297" y="477" font-family="'Liberation Sans',sans-serif" font-size="16px" textLength="20" lengthAdjust="spacingAndGlyphs" fill="#000">100</text>
<g transform="translate(0,330) rotate(-90)">
<g fill="#000"><use href="#g65b0_15" x="0" y="14"/><use href="#g589e_15" x="15" y="14"/><use href="#g75c5_15" x="31" y="14"/><use href="#g4f8b_15" x="46" y="14"/></g>
<text x="61" y="15" font-family="'Liberation Sans',sans-serif" font-size="16px" textLength="12.5" lengthAdjust="spacingAndGlyphs" fill="#000">14</text>
<g fill="#000"><use href="#g65e5_15" x="73" y="14"/><use href="#g5747_15" x="88" y="14"/><use href="#g503c_15" x="104" y="14"/></g>
</g>
<rect x="10" y="42" width="15" height="1" fill="#F8766D"/>
<text x="17.5" y="49" text-anchor="middle" font-family="'Liberation Sans',sans-serif" font-size="14.67px" fill="#F8766D">a</text>
<g fill="#000"><use href="#g5fb7_15" x="33" y="49"/><use href="#g56fd_15" x="49" y="49"/></g>
<rect x="10" y="61" width="15" height="1" fill="#E18A00"/>
<text x="17.5" y="67" text-anchor="middle" font-family="'Liberation Sans',sans-serif" font-size="14.67px" fill="#E18A00">a</text>
<g fill="#000"><use href="#g6cd5_15" x="33" y="67"/><use href="#g56fd_15" x="49" y="67"/></g>
<rect x="74" y="42" width="15" height="1" fill="#BE9C00"/>
<text x="81.5" y="49" text-anchor="middle" font-family="'Liberation Sans',sans-serif" font-size="14.67px" fill="#BE9C00">a</text>
<g fill="#000"><use href="#g97e9_15" x="97" y="49"/><use href="#g56fd_15" x="113" y="49"/></g>
<rect x="74" y="61" width="15" height="1" fill="#8CAB00"/>
<text x="81.5" y="67" text-anchor="middle" font-family="'Liberation Sans',sans-serif" font-size="14.67px" fill="#8CAB00">a</text>
<g fill="#000"><use href="#g9a6c_15" x="97" y="67"/><use href="#g6765_15" x="113" y="67"/><use href="#g897f_15" x="129" y="67"/><use href="#g4e9a_15" x="145" y="67"/></g>
<rect x="170" y="42" width="15" height="1" fill="#24B700"/>
<text x="177.5" y="49" text-anchor="middle" font-family="'Liberation Sans',sans-serif" font-size="14.67px" fill="#24B700">a</text>
<g fill="#000"><use href="#g7f8e_15" x="195" y="49"/><use href="#g56fd_15" x="211" y="49"/></g>
<rect x="170" y="61" width="15" height="1" fill="#00BE70"/>
<text x="177.5" y="67" text-anchor="middle" font-family="'Liberation Sans',sans-serif" font-size="14.67px" fill="#00BE70">a</text>
<g fill="#000"><use href="#g7f8e_15" x="195" y="67"/><use href="#g56fd_15" x="211" y="67"/><use href="#g7ebd_15" x="227" y="67"/><use href="#g7ea6_15" x="243" y="67"/><use href="#g5dde_15" x="259" y="67"/></g>
<rect x="282" y="42" width="15" height="1" fill="#00C1AB"/>
<text x="289.5" y="49" text-anchor="middle" font-family="'Liberation Sans',sans-serif" font-size="14.67px" fill="#00C1AB">a</text>
<g fill="#000"><use href="#g5168_15" x="306" y="49"/><use href="#g7403_15" x="322" y="49"/><use href="#gff08_15" x="336" y="49"/><use href="#g53f3_15" x="354" y="49"/><use href="#g8f74_15" x="370" y="49"/><use href="#gff09_15" x="390" y="49"/></g>
<rect x="282" y="61" width="15" height="1" fill="#00BBDA"/>
<text x="289.5" y="67" text-anchor="middle" font-family="'Liberation Sans',sans-serif" font-size="14.67px" fill="#00BBDA">a</text>
<g fill="#000"><use href="#g745e_15" x="306" y="67"/><use href="#g5178_15" x="322" y="67"/></g>
<rect x="410" y="42" width="15" height="1" fill="#00ACFC"/>
<text x="417.5" y="49" text-anchor="middle" font-family="'Liberation Sans',sans-serif" font-size="14.67px" fill="#00ACFC">a</text>
<g fill="#000"><use href="#g897f_15" x="434" y="49"/><use href="#g73ed_15" x="450" y="49"/><use href="#g7259_15" x="466" y="49"/></g>
<rect x="410" y="61" width="15" height="1" fill="#8B93FF"/>
<text x="417.5" y="67" text-anchor="middle" font-family="'Liberation Sans',sans-serif" font-size="14.67px" fill="#8B93FF">a</text>
<g fill="#000"><use href="#g610f_15" x="434" y="67"/><use href="#g5927_15" x="450" y="67"/><use href="#g5229_15" x="466" y="67"/></g>
<rect x="491" y="42" width="15" height="1" fill="#D575FE"/>
<text x="498.5" y="49" text-anchor="middle" font-family="'Liberation Sans',sans-serif" font-size="14.67px" fill="#D575FE">a</text>
<g fill="#000"><use href="#g5370_15" x="514" y="49"/><use href="#g5ea6_15" x="530" y="49"/></g>
<rect x="491" y="61" width="15" height="1" fill="#F962DD"/>
<text x="498.5" y="67" text-anchor="middle" font-family="'Liberation Sans',sans-serif" font-size="14.67px" fill="#F962DD">a</text>
<g fill="#000"><use href="#g82f1_15" x="514" y="67"/><use href="#g56fd_15" x="530" y="67"/></g>
<rect x="555" y="42" width="15" height="1" fill="#FF65AC"/>
<text x="562.5" y="49" text-anchor="middle" font-family="'Liberation Sans',sans-serif" font-size="14.67px" fill="#FF65AC">a</text>
<g fill="#000"><use href="#g4e2d_15" x="579" y="49"/><use href="#g56fd_15" x="595" y="49"/></g>
</g>
</svg>
</body></html>
